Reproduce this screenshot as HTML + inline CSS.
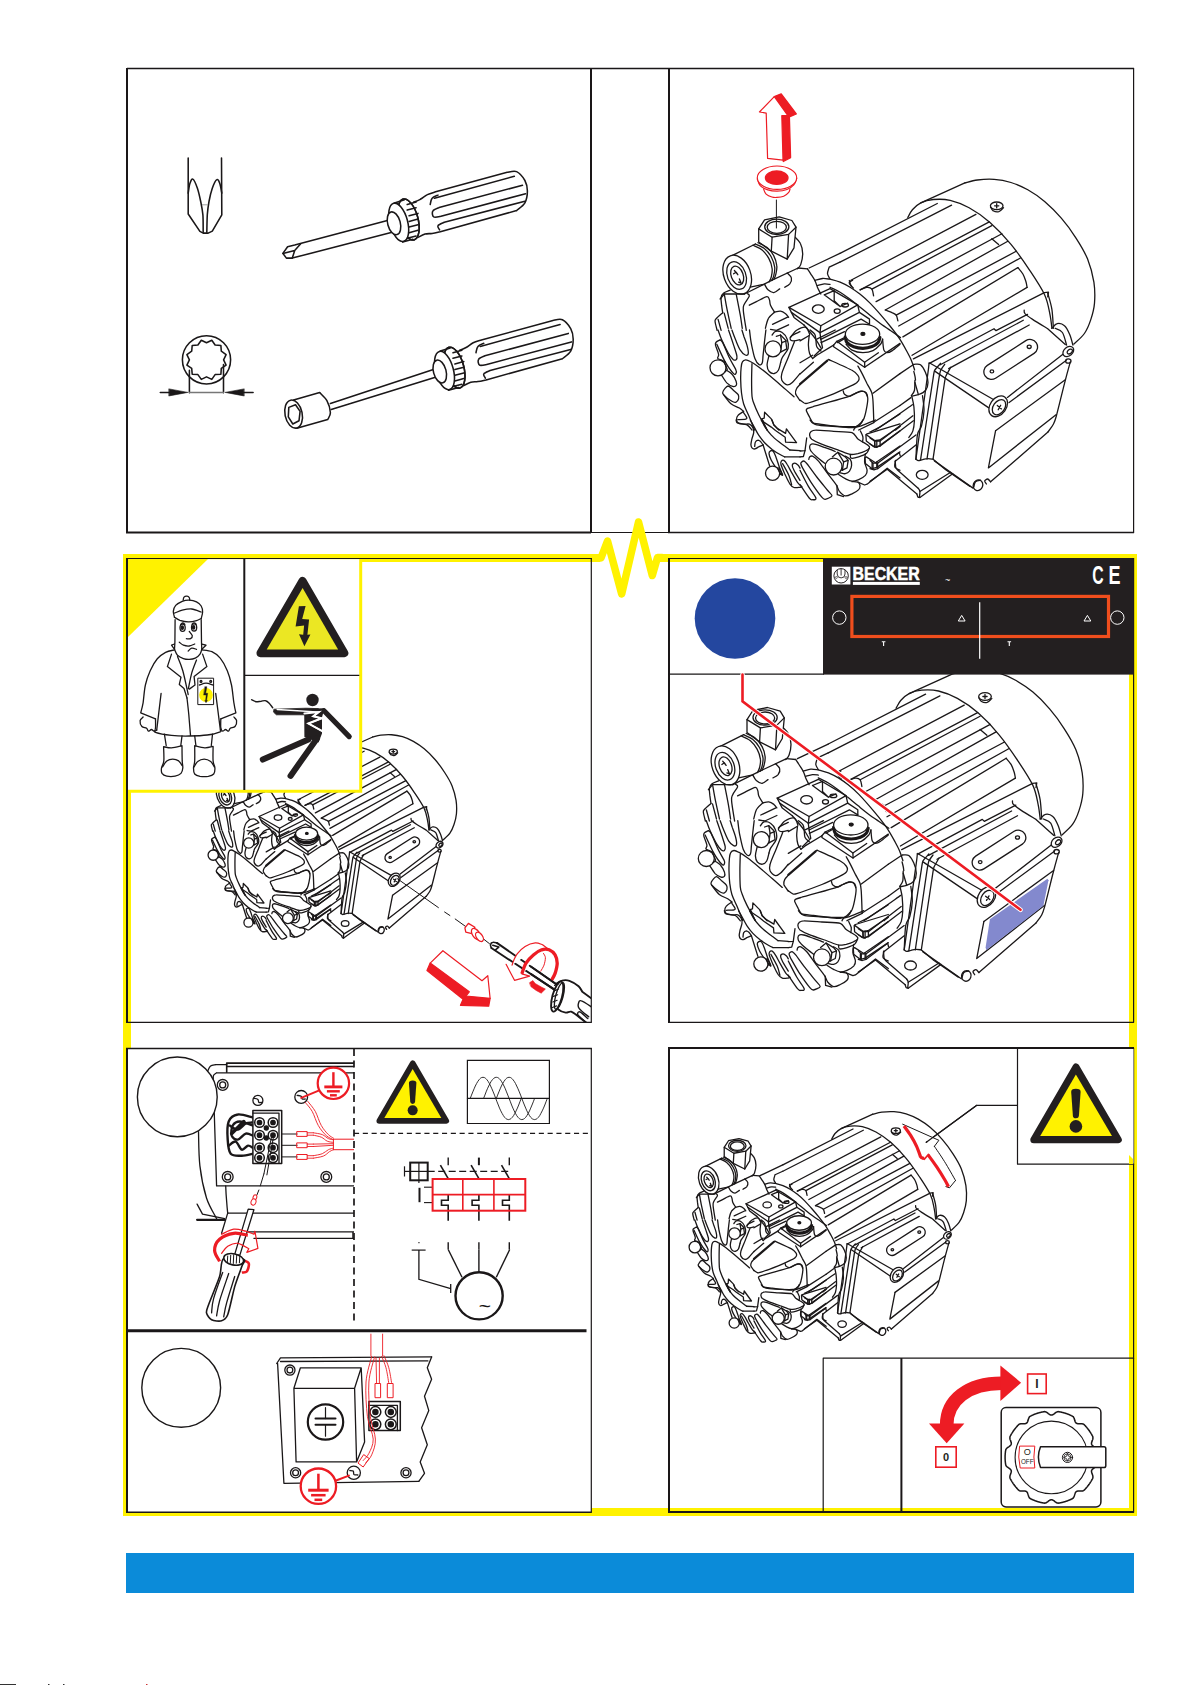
<!DOCTYPE html>
<html><head><meta charset="utf-8"><title>Becker pump – electrical connection</title>
<style>
html,body{margin:0;padding:0;background:#fff;}
body{width:1192px;height:1685px;overflow:hidden;font-family:"Liberation Sans",sans-serif;}
svg{display:block;position:absolute;left:0;top:0;}
.k{vector-effect:non-scaling-stroke;fill:none;stroke:#1a1718;stroke-width:1.3;stroke-linecap:round;stroke-linejoin:round;}
.kw{vector-effect:non-scaling-stroke;fill:#fff;stroke:#1a1718;stroke-width:1.3;stroke-linecap:round;stroke-linejoin:round;}
.tools .k,.tools .kw{stroke-width:1.55;}
.r{fill:none;stroke:#ed1c24;stroke-width:1.3;stroke-linecap:round;stroke-linejoin:round;}
</style></head><body>
<svg width="1192" height="1685" viewBox="0 0 1192 1685">
<!-- 05_pumpdefs.svg -->
<defs><g id="pump">
<path class="k" d="M907.8 217.5 C908.6 216.2 910.3 212.2 912.4 209.8 C914.6 207.3 917.3 204.6 920.8 202.9 C924.3 201.1 928.5 199.9 933.4 199.5 C938.3 199.1 944.2 199 950.2 200.3 C956.1 201.7 962.4 204 969.1 207.7 C975.7 211.3 983 216.2 990 222.4 C997 228.5 1004.4 236.3 1011 244.4 C1017.6 252.4 1024.3 262.2 1029.9 270.6 C1035.5 279 1041.2 287.5 1044.6 294.7 C1047.9 301.9 1048.6 308 1049.8 313.6 C1051 319.2 1051.6 325.8 1051.9 328.3"/>
<path class="k" d="M920.8 202.9 L964.9 182.9"/>
<path class="k" d="M964.9 182.9 C967 182.4 972.6 180.6 977.4 180 C982.3 179.4 988.6 178.9 994.2 179.4 C999.8 179.8 1005.4 180.8 1011 182.5 C1016.6 184.3 1022.2 186.7 1027.8 189.8 C1033.4 193 1039 196.7 1044.6 201.4 C1050.2 206.1 1056.1 212 1061.3 218.2 C1066.6 224.3 1071.7 231.3 1076 238.1 C1080.4 244.9 1084.6 251.7 1087.6 259.1 C1090.5 266.4 1092.7 274.8 1093.9 282.1 C1095 289.5 1095 296.8 1094.5 303.1 C1094 309.4 1092.4 314.8 1090.7 319.9 C1089 325 1087.2 329.5 1084.4 333.5 C1081.6 337.5 1075.7 342.3 1073.9 344"/>
<path class="k" d="M1047.7 293 C1048.4 295.8 1051 303.5 1051.9 309.4 C1052.8 315.3 1053.1 325.1 1053.4 328.3"/>
<ellipse class="k" cx="996.7" cy="205.8" rx="6.3" ry="3.8"/>
<path class="k" d="M990.5 207 C990.9 207.7 991.8 210.1 993.2 210.8 C994.6 211.6 997.1 212.2 998.8 211.7 C1000.6 211.1 1002.7 208.3 1003.5 207.7"/>
<path class="k" d="M996.7 203.7 L996.7 207.9M994.6 205.8 L998.8 205.8"/>
<path class="k" d="M1051.9 328.3 C1052.8 327.5 1055.1 324.1 1057.1 323.7 C1059.2 323.2 1062.4 323.9 1064.5 325.8 C1066.6 327.6 1068.3 331.3 1069.7 334.6 C1071.1 337.8 1072.4 343.3 1072.9 345.1"/>
<path class="k" d="M1055.1 328.3 C1056.3 329 1060.5 329.7 1062.4 332.5 C1064.3 335.3 1065.9 343 1066.6 345.1"/>
<path class="k" d="M840 253.3 L937.3 203.5"/>
<path class="k" d="M840 262.2 L951.6 205.2"/>
<path class="k" d="M850.9 280.3 L975.9 214.4"/>
<path class="k" d="M860.1 289.9 L989.3 221.9"/>
<path class="k" d="M871.9 289.1 L991.8 225.6"/>
<path class="k" d="M876.1 301.6 L1001.9 233.7"/>
<path class="k" d="M885.3 310 L1007.8 241.2"/>
<path class="k" d="M896.2 315.1 L1016.2 251.3"/>
<path class="k" d="M898.7 326 L1020.4 258"/>
<path class="k" d="M902.9 336.9 L1017.9 267.6"/>
<path class="k" d="M912.1 355.3 L1027.1 287.4"/>
<path class="k" d="M1017.9 267.6 C1018.7 268.6 1021.5 271.6 1022.9 274 C1024.2 276.3 1025.2 279.3 1025.9 281.5 C1026.6 283.7 1026.9 286.4 1027.1 287.4"/>
<path class="k" d="M991.8 238.7 L998.6 244.6"/>
<path class="k" d="M852.6 280.3 C852 280.7 849.4 281.6 849.2 282.7 C849.1 283.7 851.3 285.9 851.7 286.5"/>
<path class="k" d="M860.1 289.9 C861.3 289.5 864.9 287.5 866.8 287.4 C868.8 287.2 870.8 287.7 871.9 289.1 C873 290.5 873.3 294.7 873.6 295.8"/>
<path class="k" d="M885.3 310 C886.4 310.5 890.2 311.7 892 312.6 C893.8 313.4 895.2 313.7 896.2 315.1 C897.2 316.5 897.6 320 897.9 320.9"/>
<path class="k" d="M913.8 371.3 C914 372.1 914.7 374.9 915 376.3 C915.3 377.8 915.4 379.4 915.5 380"/>
<path class="k" d="M929.7 363 L993.4 399.5M935.1 371.4 L988.8 407.9"/>
<path class="k" d="M1007.4 397.4 L1063.6 353.8"/>
<path class="k" d="M1009.1 402.5 L1066.1 360.5"/>
<path class="k" d="M995.6 430.7 L1065.3 379.7"/>
<path class="k" d="M1070.3 361.9 C1069.5 365 1067.5 371.7 1065.3 380.3 C1063 389 1058.8 406.6 1056.9 413.9 C1054.9 421.2 1055.1 420.9 1053.5 424 C1052 427 1048.6 431 1047.7 432.3"/>
<path class="k" d="M1047.7 432.3 L990.6 481.8"/>
<path class="k" d="M990.6 481.8 C990.1 481.4 988.6 479.1 987.6 479 C986.6 478.9 984.9 480.2 984.7 481 C984.5 481.8 986.1 483.5 986.4 484"/>
<ellipse class="k" cx="978" cy="485.2" rx="4.7" ry="5.4" transform="rotate(20 978 485.2)"/>
<path class="k" d="M973.8 486.9 C974.1 486 974.4 483 975.5 481.8 C976.6 480.7 979.7 480.4 980.5 480.2"/>
<path class="k" d="M973 488.1 L934.4 460.9"/>
<path class="k" d="M995.6 430.7 L988.4 467.9 L1056 414.7"/>
<ellipse class="kw" cx="998.2" cy="406.3" rx="8.1" ry="11.4" transform="rotate(35 998.2 406.3)"/>
<ellipse class="k" cx="999" cy="407.2" rx="5.7" ry="8.4" transform="rotate(35 999 407.2)"/>
<path class="k" d="M997.3 405.5 L1001.5 408.9M1000.7 405.2 L998.2 409.7"/>
<ellipse class="kw" cx="1068.3" cy="351.5" rx="6" ry="4.4" transform="rotate(-40 1068.3 351.5)"/>
<ellipse class="k" cx="1069.8" cy="351.5" rx="3" ry="2" transform="rotate(-40 1069.8 351.5)"/>
<ellipse class="k" cx="1068.3" cy="361" rx="2.7" ry="2.2"/>
<g transform="rotate(-32.8 1010.7 359.4)"><rect class="k" x="980.2" y="351.8" width="61" height="15.2" rx="7.6"/></g>
<ellipse class="k" cx="991.9" cy="371.4" rx="1.8" ry="1.5"/>
<ellipse class="k" cx="1029.2" cy="346.8" rx="2" ry="1.7"/>
<path class="k" d="M913.4 358.9 L1044.3 292.6 L1048.5 292.1 L1047.7 296.8"/>
<path class="k" d="M929.4 363.4 L994 328.7 L996 330.7 L1027.5 314.4"/>
<path class="k" d="M940.3 364.7 L1023.3 320.3"/>
<path class="k" d="M948.7 368.6 L1029.2 325"/>
<path class="k" d="M1024.2 310.2 C1024.3 310.8 1023.6 312 1025 313.6 C1026.4 315.1 1028.8 316.9 1032.6 319.4 C1036.3 321.9 1045.1 327.1 1047.7 328.7M1047.7 328.7 L1065.3 344.6"/>
<path class="k" d="M794 236.1 C795 237.3 798.9 240.4 800.3 243.3 C801.8 246.2 802.6 250.1 802.7 253.7 C802.7 257.2 801.6 262.1 800.7 264.6 C799.8 267.1 797.9 268.1 797.3 268.8"/>
<path class="k" d="M772.1 280.2 L798.2 268"/>
<path class="kw" d="M758.7 228.9 L764.6 219.8 L779.2 216.8 L791.9 220.5 L796 227.2 L794 247.8 L787.2 259.1 L771.3 251.2 L758.7 241.9Z"/>
<path class="k" d="M758.7 228.9 L772.1 237.2 L788.6 234.4 L796 227.2"/>
<path class="k" d="M772.1 237.2 L771.3 251.2M788.6 234.4 L787.2 259.1"/>
<ellipse class="kw" cx="776.8" cy="226.8" rx="12.1" ry="7.7"/>
<ellipse class="k" cx="776.8" cy="227.3" rx="9.6" ry="6"/>
<path class="k" d="M731 256.2 L755.4 244M744.5 294 L772.1 280.2"/>
<path class="k" d="M755.4 244 C756.9 244.7 761.9 246.5 764.6 248.7 C767.3 250.8 769.6 254 771.3 257 C773 260.1 774.2 264 774.7 267.1 C775.1 270.2 774.3 273.3 773.8 275.5 C773.4 277.7 772.1 279.7 771.8 280.5"/>
<path class="k" d="M752.9 245.3 C754.4 246.1 759.4 247.8 762.1 250 C764.7 252.2 767.1 255.3 768.8 258.4 C770.5 261.5 771.7 265.4 772.1 268.5 C772.6 271.5 771.8 274.6 771.3 276.8 C770.8 279.1 769.5 281 769.1 281.9"/>
<path class="k" d="M757.9 242.8 C759.4 243.6 764.5 245.3 767.1 247.5 C769.8 249.7 772.2 252.8 773.8 255.9 C775.4 258.9 776.5 262.9 776.8 265.9 C777.2 269 776.3 272.1 775.8 274.3 C775.3 276.6 774.2 278.5 773.8 279.4"/>
<ellipse class="kw" cx="737.2" cy="274.7" rx="13.4" ry="20.1" transform="rotate(-20 737.2 274.7)"/>
<ellipse class="k" cx="736.6" cy="275.5" rx="9.2" ry="14.3" transform="rotate(-20 736.6 275.5)"/>
<ellipse class="k" cx="737.2" cy="275.5" rx="6" ry="9.7" transform="rotate(-20 737.2 275.5)"/>
<path class="k" d="M734.4 270.5 L737.8 274.7 L736.1 272.1 L733.6 273.8M739.4 278.9 L741.1 283.1 L738.6 282.2"/>
<path class="k" d="M764.6 284.4 C765.2 285.3 766.4 288.4 768 289.8 C769.5 291.1 771.9 292.8 773.8 292.6 C775.8 292.5 778.7 289.5 779.7 288.9"/>
<path class="k" d="M787.2 273 C787.9 273.8 791 276.2 791.4 278 C791.9 279.8 790.9 282.4 789.8 283.9 C788.6 285.4 785.6 286.7 784.7 287.2"/>
<path class="k" d="M788.9 307.4 L830 288.6 L857.7 304.9 L820.8 325.8Z"/>
<path class="k" d="M824.2 294.8 L834.2 290.6 L834.2 300.7M824.2 294.8 L840.1 306.5 L847.7 303.2M834.2 300.7 L840.1 306.5"/>
<ellipse class="k" cx="818.3" cy="309.1" rx="5.9" ry="4.2"/>
<ellipse class="k" cx="837.2" cy="311.1" rx="3" ry="2.2"/>
<ellipse class="k" cx="845.1" cy="305.2" rx="3.4" ry="1.8"/>
<path class="k" d="M788.9 307.4 L791.4 312.4 L820 332.6 L859.4 312.4 L857.7 304.9"/>
<path class="k" d="M820 332.6 L820.8 325.8"/>
<path class="k" d="M791.4 312.4 L794 317.4 L804 325M820 332.6 L820.8 339.3 L861.1 319.1 L869.5 324.2 L837.6 342.6"/>
<path class="k" d="M859.4 312.4 L869.5 319.1 L869.5 324.2"/>
<path class="k" d="M804 325 C804.9 326 807.1 328.5 809.1 330.9 C811 333.2 813.8 336.5 815.8 339.3 C817.7 342.1 820 346.3 820.8 347.7"/>
<path class="k" d="M820.8 339.3 L822.5 347.7 L814.1 356"/>
<path class="k" d="M814.9 280.5 C816.2 280.2 820 278.7 822.5 278.5 C825 278.3 828.8 279.1 830 279.2M830 279.2 C831.7 279.7 836.7 280.9 840.1 282.2 C843.4 283.6 846.8 285.2 850.1 287.2 C853.5 289.3 856.8 291.6 860.2 294.3 C863.6 297 866.9 300 870.3 303.4 C873.6 306.7 877 310.6 880.3 314.4 C883.7 318.3 887.2 322.5 890.4 326.5 C893.6 330.5 896.8 334.6 899.5 338.6 C902.1 342.6 904.5 347 906.5 350.7 C908.5 354.4 910.2 357.5 911.5 360.7 C912.9 364 914.1 368.5 914.6 370"/>
<path class="k" d="M817.4 285.6 C818.6 285.3 822.1 284.1 824.2 283.9 C826.3 283.7 829.1 284.3 830 284.4M830 287.2 C831.7 288.1 836.7 290.3 840.1 292.3 C843.4 294.3 846.9 297 850.1 299.3 C853.3 301.7 855.8 303.7 859.2 306.4 C862.6 309.1 866.7 312.6 870.3 315.4 C873.8 318.3 877 321 880.3 323.5 C883.7 326 887 328.2 890.4 330.5 C893.8 332.9 898.8 336.4 900.5 337.6"/>
<path class="k" d="M807.4 268.8 C807.9 269.6 809.5 271.9 810.7 273.8 C812 275.8 813.8 278.3 814.9 280.5 C816.1 282.8 816.5 285 817.4 287.2 C818.4 289.5 820.2 292.8 820.8 294"/>
<path class="k" d="M798.2 268 L807.4 268.8M809.1 268 L839.9 253.4"/>
<path class="k" d="M829.2 267.1 C828.9 268.2 827.4 271.9 827.5 273.8 C827.7 275.8 829.6 278 830 278.9M829.2 267.1 L839.9 262.2"/>
<path class="k" d="M849.3 280.5 C849.6 281.4 850.3 284.3 851 285.6 C851.7 286.8 853.1 287.7 853.5 288.1"/>
<path class="k" d="M750.3 287.2 L762.1 284.7 L764.6 284.4"/>
<path class="k" d="M720.1 299 L724.3 294 L744.5 294"/>
<path class="k" d="M718 330 C718.7 331.7 720.1 336.2 721.8 340.1 C723.6 344 726.6 350.3 728.5 353.5 C730.4 356.7 731.9 358.3 733.1 359.4 C734.4 360.4 735.4 360.3 736.1 359.8 C736.7 359.2 737.3 358.5 736.9 356 C736.5 353.6 735 349.4 733.6 345.1 C732.2 340.8 729.4 332.5 728.5 330"/>
<path class="k" d="M731.9 330 C732.5 331.7 734.3 336.7 735.7 340.1 C737.1 343.4 738.7 347.6 740.3 350.1 C741.9 352.6 744 354.4 745.3 355 C746.6 355.6 747.9 355.3 748.2 353.9 C748.6 352.5 748.1 349.6 747.4 346.8 C746.7 343.9 745 339.5 744 336.7 C743.1 333.9 742.3 331.1 741.9 330"/>
<path class="k" d="M720.1 339.9 C719.5 340.3 716.9 341.3 716.1 342.2 C715.3 343 715.1 343.1 715.5 345.1 C715.9 347.1 718.3 352.2 718.6 354.3 C719 356.5 717.3 357.2 717.6 358.1 C717.9 359 720.1 359.5 720.6 359.8"/>
<path class="k" d="M716.8 344.3 C718.2 347.2 722.4 357 725.2 361.9 C728 366.8 731.7 371.8 733.6 373.6 C735.4 375.4 735.9 373.5 736.2 372.8 C736.6 372.1 736.8 371.9 735.7 369.4 C734.5 366.9 731.5 362.2 729.4 357.7 C727.2 353.2 724.2 345.5 722.7 342.6 C721.1 339.6 720.6 340.3 720.1 339.9"/>
<path class="k" d="M721.4 374.9 C722.3 376.2 725 380.9 726.8 382.9 C728.7 384.8 731.2 386 732.7 386.4 C734.3 386.8 735.7 386.2 736.2 385.4 C736.8 384.5 736.7 383 736.1 381.2 C735.4 379.4 733.8 376.2 732.3 374.5 C730.8 372.7 728.1 371.3 727.3 370.7"/>
<path class="k" d="M728.1 386 C726.4 386.2 723.8 389.8 723.1 391.2 C722.3 392.7 722 392.9 723.5 394.6 C725 396.3 729.8 400.1 731.9 401.3 C734 402.6 735 402.6 736.1 402.1 C737.2 401.7 738.2 400.1 738.6 398.8 C738.9 397.5 739 396 738.2 394.6 C737.3 393.2 735.2 391.8 733.6 390.4 C731.9 389 729.9 385.9 728.1 386Z"/>
<path class="k" d="M723.5 394.6 C724.7 396.1 728.4 401.6 731 403.8 C733.7 406.1 737.3 406.8 739.4 408 C741.5 409.3 742.9 410.8 743.6 411.4"/>
<path class="k" d="M743.6 411.4 C742.6 412.1 738.9 414.2 737.8 415.6 C736.6 417 736.4 418.5 736.5 419.8 C736.6 421 736.8 422.3 738.6 423.1 C740.3 424 744.7 423.7 747 424.8 C749.2 425.9 751.2 429.1 752 430"/>
<path class="k" d="M743.6 412.6 C744.1 413.4 746.2 416.2 746.6 417.2 C746.9 418.3 747.2 418.7 745.7 419.1 C744.3 419.5 739.1 419.5 737.8 419.6"/>
<ellipse class="kw" cx="718" cy="367.8" rx="8" ry="8"/>
<path class="k" d="M724.3 362.3 L727.3 369.4 L725.2 371.9"/>
<path class="k" d="M721 359.8 L725.2 361.9"/>
<path class="k" d="M754.5 430 C753.6 427.6 750.5 419.9 748.7 415.6 C746.8 411.2 744.8 407.6 743.6 403.8 C742.4 400.1 742 396.8 741.5 392.9 C741 389 740.8 384.5 740.7 380.3 C740.6 376.1 740.8 370.8 741.1 367.8 C741.4 364.7 741.6 363.2 742.4 361.9 C743.1 360.6 744.4 359.9 745.7 359.8 C747 359.7 748.2 360.3 750.3 361.5 C752.5 362.6 755.2 364.3 758.7 366.9 C762.2 369.5 767.1 373.5 771.3 377 C775.5 380.5 780.1 384.6 783.9 387.9 C787.7 391.2 792.3 395.2 794 396.7"/>
<path class="k" d="M767.1 430 C766.6 429 765.2 426.5 763.8 424 C762.4 421.4 760.4 418.2 758.7 414.7 C757 411.2 754.8 406.1 753.7 403 C752.6 399.9 752.4 400.1 752 396.3 C751.7 392.5 751.6 385.8 751.6 380.3 C751.6 374.9 751.9 366.4 752 363.6"/>
<path class="k" d="M767.1 430 L761.7 418.9 L764.2 418.1 L764.6 412.2 L771.3 418.9 L773.8 424.8 L778.9 430"/>
<path class="k" d="M749.5 330 C749.8 332.2 750.4 338.7 751.3 343.4 C752.3 348.2 753.6 355 754.9 358.5 C756.2 362 757.9 363.8 759.1 364.6 C760.4 365.3 761.6 364.7 762.2 363.1 C762.9 361.6 762.7 358.6 763.1 355.2 C763.5 351.7 764 346.8 764.4 342.6 C764.9 338.4 765.6 332.1 765.9 330"/>
<path class="k" d="M772.1 335 C772.7 334.4 773.8 331.7 775.5 331.3 C777.2 330.8 780.3 331.2 782.2 332.5 C784.2 333.8 786.3 336.6 787.2 339.2 C788.2 341.9 788.9 345.4 788.1 348.5 C787.2 351.5 783.4 355.4 782.2 357.7 C781 360 781 361.5 780.7 362.3"/>
<path class="k" d="M776.3 336.3 L780.5 335 L785.6 340.1 L786.8 348.9 L780.5 352.2"/>
<path class="k" d="M780.5 335 L781.8 342.6 L780.5 352.2"/>
<path class="k" d="M781.8 342.6 L786.4 340.9"/>
<ellipse class="kw" cx="773" cy="348.9" rx="8" ry="8"/>
<path class="k" d="M768.8 356.4 C768.5 357.9 767 362.7 767.1 365.2 C767.2 367.8 768 370.2 769.2 371.5 C770.4 372.9 772.7 373.7 774.2 373.5 C775.8 373.2 777.4 372.1 778.4 370.3 C779.5 368.4 780.3 363.6 780.7 362.3"/>
<path class="k" d="M794.4 341.7 C793.3 344.4 790.2 352.4 788.1 357.7 C786 363 782.8 369.8 781.8 373.6 C780.7 377.4 780.9 378.4 781.8 380.3 C782.7 382.2 785.5 384.6 787.2 384.9 C789 385.3 790.2 384.3 792.3 382.4 C794.4 380.5 798.7 375.1 800 373.6"/>
<path class="k" d="M800 384.5 C799.4 385.2 797.2 387.2 796.5 388.7 C795.7 390.3 795.1 391.8 795.6 393.8 C796.2 395.7 799.3 399.4 800 400.5"/>
<path class="k" d="M800 331.7 C798.6 332.4 793.1 334.6 791.4 335.9 C789.8 337.1 789.9 338.4 790.2 339.2 C790.5 340.1 791.5 340.8 793.1 340.9 C794.8 341 798.9 339.9 800 339.6"/>
<path class="k" d="M736.1 420 C736.3 420.5 736.1 422.2 737.3 422.9 C738.6 423.6 741.6 424 743.6 424.2 C745.7 424.4 748 423.6 749.5 424.2 C751 424.8 752.2 426.2 752.9 427.6 C753.6 428.9 753.9 430.6 753.7 432.6 C753.5 434.5 752.3 437.3 751.8 439.3 C751.4 441.3 750.9 443.3 750.9 444.7 C751 446.2 751.5 447.4 752.2 448.1 C752.9 448.8 753.8 449.2 754.9 448.9 C756.1 448.7 757.8 447.3 759.1 446.7 C760.5 446 762.4 445.3 763.1 445"/>
<path class="k" d="M754.7 446.4 C754.8 445.7 754.8 443 755.4 442 C755.9 440.9 757.2 440.2 758.1 440.1 C758.9 440.1 759.7 440.8 760.6 441.6 C761.4 442.5 762.7 444.4 763.1 445"/>
<path class="k" d="M750.3 420 C751 421.3 753.1 425 754.5 427.6 C755.9 430.1 757 432.6 758.7 435.1 C760.4 437.6 762.4 440.3 764.6 442.7 C766.8 445 769.5 447.3 772.1 449.4 C774.8 451.4 778.4 453.6 780.5 454.8 C782.6 456.1 784 456.6 784.7 456.9"/>
<path class="k" d="M784.7 456.9 L800 456.9"/>
<path class="k" d="M761.2 420 C761.9 421.3 763.8 425 765.4 427.6 C767.1 430.1 769.1 432.7 771.3 435.1 C773.5 437.5 776.5 439.9 778.9 441.8 C781.2 443.8 783.8 445.5 785.6 446.8 C787.4 448.2 789.1 449.5 789.8 450"/>
<path class="k" d="M789.8 450 L800 450.6"/>
<path class="k" d="M772.1 420 L773.8 425 L777.2 428.4 L785.6 433.4 L786.4 428.8 L796.5 442.7 L785.6 442.2 L785.2 437.2 L775.5 430.5 L771.3 427.1 L763.8 422.1 L762.5 420"/>
<path class="k" d="M763.1 445 L769.6 465.7"/>
<path class="k" d="M769 453.6 C768.8 452 769.8 451.3 770.5 450.9 C771.2 450.5 772.2 450.2 773.2 451.2 C774.1 452.2 774.9 454.3 775.9 456.9 C776.9 459.5 778.2 464 779.3 467 C780.4 470 782.4 473.8 782.6 474.9 C782.8 476.1 781.7 475 780.5 473.7 C779.3 472.4 777 469.2 775.5 467 C774 464.7 772.4 462.5 771.3 460.3 C770.2 458 769.1 455.1 769 453.6Z"/>
<ellipse class="kw" cx="772.6" cy="473.3" rx="7.1" ry="7.1"/>
<path class="k" d="M777.6 468.2 L780.5 474.5"/>
<path class="k" d="M778.9 467.8 L781.8 473.7"/>
<path class="k" d="M801.9 486.7 C801.6 486.8 801.3 487.1 800 487.3 C798.7 487.4 795.7 488.1 794 487.5 C792.3 486.9 791.3 486.1 789.8 483.8 C788.2 481.5 786.2 476.9 784.7 473.7 C783.3 470.5 781.5 466.6 781 464.5 C780.4 462.4 780.9 461.8 781.4 461.1 C781.9 460.4 782.9 459.9 783.9 460.4 C784.9 461 785.9 462.3 787.2 464.5 C788.6 466.7 790.6 470.8 792.3 473.7 C794 476.6 796 480.2 797.3 482.1 C798.6 484 799.2 484.2 800 485 C800.8 485.8 801.6 486.4 801.9 486.7"/>
<path class="k" d="M782.6 463.6 C783.7 465.6 787.4 471.9 788.9 475.4 C790.4 478.9 791.2 483.1 791.6 484.6"/>
<path class="k" d="M800 468.2 C799.7 467.7 799 466.1 798.2 465.3 C797.3 464.5 795.8 463.2 794.8 463.2 C793.8 463.2 792.4 464.1 792.3 465.3 C792.1 466.5 792.7 467.8 794 470.3 C795.2 472.9 799 478.7 800 480.4"/>
<path class="k" d="M810.1 420 C810.6 420.6 811.6 422.4 813.4 423.4 C815.2 424.3 814.3 424.9 821 425.5 C827.7 426 847.1 426.9 853.7 426.7 C860.3 426.5 858.9 425.3 860.4 424.2 C861.9 423.1 862.5 420.7 862.9 420"/>
<path class="k" d="M809.6 435.1 C809.5 434.2 810.2 432.3 810.9 431.7 C811.6 431.2 812.9 430.1 815.5 430.1 C818.2 430 829.3 431 833.6 431.3 C837.8 431.6 849.2 431.7 852 432.6 C854.9 433.5 856 437.4 857.9 438.9 C859.7 440.3 866.6 444.1 868 445.2 C869.3 446.2 869.8 447.4 869.5 448.1 C869.2 448.8 866.8 450.4 865.4 451 C864.1 451.7 859.6 453.2 857.9 453.6 C856.1 453.9 852.7 454.8 850.3 454.4 C848 454 841.2 451 837.8 449.8 C834.3 448.6 824 445.1 821 443.9 C817.9 442.7 813.1 440.3 811.7 439.3 C810.4 438.3 809.7 436 809.6 435.1Z"/>
<path class="k" d="M850.3 454.4 C850.5 455 849.8 457.8 851.2 458.2 C852.6 458.6 856.2 457.7 858.7 456.9 C861.2 456.1 864.5 455 866.3 453.6 C868 452.2 868.7 449.4 869.2 448.5"/>
<path class="k" d="M825.2 463.6 C823.8 462.5 819.2 459 816.8 456.9 C814.4 454.8 812.1 452.7 810.9 451 C809.7 449.4 809.6 448 809.6 446.8 C809.7 445.7 810.3 444.6 811.3 444.2 C812.3 443.7 813.2 443.7 815.5 444.3 C817.8 444.9 821.9 446.5 825.2 447.7 C828.5 448.9 833.6 450.8 835.2 451.5"/>
<path class="k" d="M800 451 L805 450.6 L806.7 438"/>
<path class="k" d="M800 456.9 L803.4 456.5 L805 450.6"/>
<path class="k" d="M845.3 456.1 C846.1 456.6 849.3 457.9 850.3 459.4 C851.4 461 851.7 463.3 851.6 465.3 C851.5 467.3 850.5 469.8 849.5 471.2 C848.4 472.6 846.8 473.4 845.3 473.7 C843.8 474 841.1 473 840.3 472.9"/>
<path class="k" d="M832.3 456.9 L837.8 452.3 L845.3 456.9 L848.2 460.3 L847 467.8 L841.9 470.3"/>
<path class="k" d="M837.8 452.3 L843.6 461.9 L842.4 470.3"/>
<path class="k" d="M843.6 461.9 L848 460.3"/>
<ellipse class="kw" cx="833.6" cy="466.6" rx="8.4" ry="8.4"/>
<path class="k" d="M865.4 453.6 C865.3 455 864.3 459.1 864.6 461.9 C864.9 464.7 867 468.1 867.1 470.3 C867.3 472.6 866.8 473.8 865.4 475.4 C864 476.9 861 478.6 858.7 479.6 C856.5 480.5 854.3 481.4 852 481.2 C849.8 481.1 847.5 479.8 845.3 478.7 C843.1 477.6 839.7 475.2 838.6 474.5"/>
<path class="k" d="M808.8 459.4 C808.9 459 809 457.4 809.6 456.9 C810.3 456.4 811.1 455.5 812.6 456.2 C814.1 456.9 815.9 458.2 818.5 461.1 C821 464 824.7 469.8 827.7 473.7 C830.6 477.6 834.1 481.7 836.1 484.6 C838 487.5 837.9 489.4 839.4 491.3 C841 493.2 843.2 495.5 845.3 495.9 C847.4 496.3 849.8 494.9 852 493.8 C854.3 492.8 857.4 491 858.7 489.6 C860.1 488.2 860.1 486.7 860 485.4 C859.8 484.2 859.2 482.7 857.9 482.1 C856.6 481.5 853 481.7 852 481.7"/>
<path class="k" d="M801.7 461.9 C802.1 461.6 803.4 460.8 804.2 461.1 C805 461.4 805.9 462.3 807.6 464.5 C809.2 466.6 814.1 473.6 816.8 477 C819.5 480.5 825.7 488 827.7 490.5 C829.7 493 832.2 494.7 831.9 495.9 C831.5 497.1 826.5 499.1 825.2 499.3 C823.8 499.4 823.7 499.5 821.8 497.2 C819.9 494.9 813.5 486 810.9 482.1 C808.3 478.2 803.9 470.3 802.5 467.8 C801.2 465.4 801 464.4 800.8 463.6 C800.7 462.8 801.2 462.3 801.7 461.9Z"/>
<path class="k" d="M800 470.3 C801.4 473 805.7 481.7 808.4 486.3 C811 490.9 815.2 495.8 815.9 498 C816.6 500.3 813.7 499.7 812.6 499.7 C811.5 499.7 811.3 500.5 809.2 498 C807.1 495.5 801.5 486.8 800 484.6"/>
<path class="k" d="M836.9 485.4 L837.3 494.7 L843.6 496.5"/>
<path class="k" d="M900 423.8 L867.1 433.8 L865.9 434.7 L866.3 441 L873.8 446.7 L876.8 447.3 L879.7 445.6 L900 430.9"/>
<path class="k" d="M866.3 434.7 L874.7 440.6 L879.7 440 L900 426.3"/>
<path class="k" d="M874.7 440.6 L874.7 446.8"/>
<path class="k" d="M876.8 440.4 L876.8 447.3"/>
<path class="k" d="M900 446 L875.5 462.8 L866.3 456.9 L865 457.8 L865.4 463.6 L872.1 468.7 L876.8 467.4 L900 451.9"/>
<path class="k" d="M872.1 463 L872.1 468.7"/>
<path class="k" d="M876.8 461.9 L876.8 467.4"/>
<path class="k" d="M853.7 430.1 C854 429.6 854.1 428.2 855.4 427.6 C856.6 426.9 857.9 427.1 861.2 425.9 C864.6 424.6 873.1 421 875.5 420"/>
<path class="k" d="M860.4 430.9 C860.8 431.9 862.6 435 862.9 436.8 C863.3 438.6 862.6 441 862.5 441.8"/>
<path class="k" d="M857.9 482.1 L864.6 485 L867.1 484.2 L887.2 468.2 L900 477.9"/>
<path class="k" d="M895.6 460.3 C895.5 461.4 894.1 465.3 894.8 467 C895.5 468.7 899.1 469.8 900 470.3"/>
<path class="k" d="M845.3 336.7 C845.6 337.7 845.6 340.9 847 342.6 C848.4 344.3 851 345.8 853.7 346.8 C856.3 347.7 859.8 348.3 862.9 348.3 C866 348.3 869.6 347.6 872.1 346.6 C874.7 345.7 876.7 344.1 878 342.6 C879.3 341.1 879.6 338.4 879.9 337.6" style="stroke-width:3.2"/>
<path class="k" d="M846.1 344.3 C847.1 345.2 849.2 348.7 852 350.1 C854.8 351.5 859.4 352.6 862.9 352.7 C866.4 352.7 870.1 352 873 350.6 C875.9 349.2 878.9 346.1 880.5 344.3 C882.1 342.4 882.3 340.1 882.6 339.2"/>
<ellipse class="kw" cx="862.5" cy="334.2" rx="17.2" ry="10.1"/>
<ellipse class="k" style="fill:#1a1718" cx="862.9" cy="333.9" rx="2" ry="1.5"/>
<path class="k" d="M833.6 345.1 L836.9 341.3 L844.5 337.6"/>
<path class="k" d="M836.9 341.3 L864.6 362.3 L878.4 352.8"/>
<path class="k" d="M833.6 345.1 L833.6 346.8 L864.6 367.3 L900 343.4"/>
<path class="k" d="M864.6 362.3 L864.8 367.3"/>
<path class="k" d="M882.6 339.2 C882.8 341 883.1 347.9 883.9 350.1 C884.7 352.4 885.9 352.6 887.2 352.7 C888.6 352.7 890.2 352 892.3 350.6 C894.4 349.2 898.7 345.3 900 344.3"/>
<path class="k" d="M857.9 366.1 C858.4 367.1 859.7 369 861.2 371.9 C862.8 374.9 865.4 380.3 867.1 383.7 C868.9 387.1 870.7 389.6 871.7 392.5 C872.7 395.4 872.6 396.3 873 401.3 C873.3 406.3 873.7 418.8 873.8 422.3"/>
<path class="k" d="M873 393.3 L900 373.6"/>
<path class="k" d="M873.8 422.3 L900 405.5"/>
<path class="k" d="M858.7 430 L873.8 422.7"/>
<path class="k" d="M875.5 430 L900 413.9"/>
<path class="k" d="M895.6 430 L900 426.5"/>
<path class="k" d="M800 384.1 L827.3 360.6" style="stroke-width:2.2"/>
<path class="k" d="M829.4 359.8 C832 361 848.7 368.5 852 370.3 C855.3 372.1 857.1 374.3 857.9 375.3 C858.7 376.3 859.2 378.2 859.1 379.1 C859 379.9 858.1 381.6 857 382.4 C856 383.3 853.1 384.9 850.3 386.2 C847.6 387.5 838.5 391.8 833.6 393.8 C828.7 395.7 811.8 401.9 808.4 403 C805 404.1 805.2 403.3 804.2 403 C803.2 402.6 800.5 400.4 800 400.1"/>
<path class="k" d="M827.3 360.6 C827.5 360.4 828.2 359.7 828.5 359.5 C828.9 359.4 829.2 359.7 829.4 359.8"/>
<path class="k" d="M843.2 390.8 C843.4 391.4 843.4 393.3 844.5 394.2 C845.5 395.1 847.8 396.3 849.5 396.3 C851.2 396.2 852.7 394.6 854.5 393.8 C856.3 392.9 858.6 391.5 860.4 391.2 C862.2 391 864.2 391.5 865.4 392.5 C866.6 393.5 867.2 396.3 867.5 397.1"/>
<path class="k" d="M806.3 410.5 C806 409.6 806.9 408.8 807.6 408.4 C808.2 408.1 808.6 407.9 812.6 406.8 C816.5 405.6 842.8 398.4 847 397.1 C851.2 395.8 853 394.3 854.5 393.8 C856 393.2 860.9 391.3 862.1 391.2 C863.3 391.2 865.7 392.2 866.3 392.9 C866.8 393.7 867.8 397.1 867.8 398.8 C867.8 400.5 866.7 407.7 866.3 409.7 C865.9 411.7 864.5 417.4 863.8 418.9 C863 420.4 859.9 423.9 858.7 424.8 C857.6 425.7 855.4 427.7 852 427.7 C848.7 427.7 829 425.3 825.2 424.8 C821.3 424.3 814.9 423.8 813.4 423.1 C811.9 422.4 810.8 419.3 810.1 418.1 C809.4 416.8 806.5 411.5 806.3 410.5Z"/>
<path class="k" d="M800 340.9 L809.2 335.5"/>
<path class="k" d="M809.2 335.5 C809.1 337.1 808.3 342.1 808.4 345.1 C808.5 348.1 808.9 351.3 809.6 353.5 C810.3 355.7 812.1 357.7 812.6 358.5"/>
<path class="k" d="M810.1 330 C810.8 330.7 813.7 332.5 814.7 334.2 C815.7 335.9 815.6 338 815.9 340.1 C816.3 342.2 815.9 345 816.8 346.8 C817.6 348.6 820.3 350.3 821 351"/>
<path class="k" d="M816.8 339.2 L835.2 330"/>
<path class="k" d="M821 342.6 L844.5 331.7"/>
<path class="k" d="M812.6 358.5 L816.8 355.2 L833.6 345.1"/>
<path class="k" d="M800 362.7 L812.6 355.2"/>
<path class="k" d="M800 374 L813.4 362.3"/>
<path class="k" d="M730.2 290.1 C729.1 290.6 725.2 291.8 723.7 293.1 C722.1 294.3 721.5 295.6 721.1 297.6 C720.8 299.6 721.4 302.7 721.6 305.2 C721.9 307.7 722.5 311.5 722.7 312.7"/>
<path class="k" d="M722.7 312.7 C721.6 313.7 717.4 317.2 716.1 318.8 C714.8 320.3 714.9 319.8 715.1 321.8 C715.3 323.7 716.8 328.9 717.1 330.3"/>
<path class="k" d="M724.2 293.6 C724.7 296.4 726 304.4 727.2 310.2 C728.4 316 730.5 325.3 731.2 328.3"/>
<path class="k" d="M736.2 294.1 C736.9 297.6 739.3 309.5 740.3 315.2 C741.3 320.9 741.9 326.1 742.3 328.3"/>
<path class="k" d="M718.1 319.3 L721.1 330.3"/>
<path class="k" d="M724.2 313.2 L728.2 328.3"/>
<path class="k" d="M747.3 293.6 C747.7 294 749.8 294.3 749.3 296.1 C748.8 297.9 745.3 301.8 744.3 304.2 C743.3 306.5 743 305.8 743.3 310.2 C743.6 314.6 745.8 327 746.3 330.3"/>
<path class="k" d="M749.3 305.2 C750.5 304.6 753.4 303.1 756.4 301.6 C759.3 300.2 764.8 296.9 766.9 296.6 C769.1 296.4 768.9 298.7 769.5 300.1 C770.1 301.6 769.6 303.2 770.5 305.2 C771.3 307.2 773.8 311 774.5 312.2"/>
<path class="k" d="M774.5 312.2 C773.5 313.2 770 315.6 768.5 318.3 C766.9 320.9 765.9 326.6 765.4 328.3"/>
<path class="k" d="M774.5 312.2 C775.5 312 778.7 311 780.5 311.2 C782.4 311.5 784.2 312.7 785.6 313.7 C786.9 314.7 788.1 316.7 788.6 317.2"/>
<path class="k" d="M772.5 324.3 L787.6 317.2"/>
<path class="k" d="M770.5 329.3 L776.5 330.3 L788.6 324.8"/>
<path class="k" d="M809.7 334.4 C809.1 333.2 807.9 328 805.7 327.3 C803.5 326.6 799.2 328.7 796.6 330.3 C794.1 332 791.6 336.2 790.6 337.4"/>
<path class="k" d="M914.9 380.5 C914.8 382.1 915 388 914.4 390.5 C913.8 393.1 911.9 394.7 911.4 395.6"/>
<path class="k" d="M911.9 396.6 C912.2 398.3 913.5 402.7 913.9 406.7 C914.3 410.7 914.6 416.8 914.4 420.8 C914.2 424.9 913.8 428.1 912.9 430.9 C912 433.7 909.5 436.4 908.8 437.5"/>
<path class="k" d="M922.5 395.6 C922.7 398.1 924.2 405.7 924 410.7 C923.8 415.8 922.6 421.8 921.5 425.9 C920.4 429.9 918.4 429.4 917.4 434.9 C916.5 440.5 916.2 455.1 915.9 459.2"/>
<path class="k" d="M914.4 364.3 C915.4 364.4 918.6 363.5 920.5 364.8 C922.3 366.2 924.2 369.4 925.5 372.4 C926.8 375.3 928 379.4 928 382.5 C928 385.5 927.1 388.5 925.5 390.5 C923.9 392.6 920.8 393.7 918.4 394.6 C916.1 395.5 912.5 395.8 911.4 396.1"/>
<path class="k" d="M914.9 382.5 L918.4 394.6"/>
<path class="k" d="M900 373.6 L913.9 364.3"/>
<path class="k" d="M900 405.5 L910.9 397.6"/>
<path class="k" d="M870 431.9 C871.7 431.1 875.9 429.4 880.1 426.9 C884.3 424.3 889.8 420.5 895.2 416.8 C900.6 413.1 909.5 406.7 912.4 404.7"/>
<path class="k" d="M870 438 L874.5 441 L880.1 441 L912.9 415.8"/>
<path class="k" d="M874.5 441 L875 446"/>
<path class="k" d="M880.1 441 L880.1 446"/>
<path class="k" d="M870 444 L875 447.1 L880.1 446 L913.4 420.8"/>
<path class="k" d="M870 460.2 L873 463.2 L877.6 463.2 L915.9 434.9"/>
<path class="k" d="M873 463.2 L873 468.2"/>
<path class="k" d="M877.6 463.2 L877.6 468.7"/>
<path class="k" d="M870 468.7 L874 469.8 L877.6 468.7 L899.3 452.6"/>
<path class="k" d="M899.3 452.6 L900.3 456.1"/>
<path class="k" d="M895.2 461.2 L915.9 445"/>
<path class="k" d="M870 481.4 L887.2 469.3"/>
<path class="k" d="M929 362.8 C929 363.4 928.9 366 928 372.4 C927.1 378.8 916.7 453.4 915.9 459.2"/>
<path class="k" d="M940.6 363.3 C940.2 363.8 935.1 369.4 934.6 370.4 C934.1 371.4 934 372.4 933.1 378.4 C932.1 384.4 921.3 454.7 920.5 460.2"/>
<path class="k" d="M944.7 364.3 C944.4 364.7 941 369.3 940.6 370.4 C940.2 371.4 939.5 374.5 938.6 380.5 C937.7 386.4 927.8 453.9 927 459.2"/>
<path class="k" d="M950.7 367.3 C950.4 367.9 946.1 375.3 945.7 376.4 C945.2 377.6 945 379 944.2 384.5 C943.3 390 933.8 453.7 933.1 458.7"/>
<path class="k" d="M915.9 459.2 C916.3 459.4 917.3 460.6 918.4 460.7 C919.5 460.8 921 460 922.5 459.7 C924 459.3 925.8 458.7 927.5 458.7 C929.3 458.6 932.1 459.1 933.1 459.2"/>
<path class="k" d="M895.2 461.2 L895.7 467.2 L897.2 469.8 L918.4 488.4"/>
<path class="k" d="M918.4 488.4 C918.7 488.9 919.8 490 919.9 491.5 C920.1 492.9 919.5 496.1 919.4 497"/>
<path class="k" d="M887.2 469.3 L916.9 494"/>
<path class="k" d="M916.9 494 C917.1 494.5 917.4 496.4 917.9 497 C918.4 497.6 919.6 497.4 919.9 497.5"/>
<path class="k" d="M919.9 491.5 L950.7 472.3"/>
<path class="k" d="M919.9 497.5 L952.7 473.7"/>
<path class="k" d="M933.1 459.2 L945.7 469.8 L970 486.4"/>
<ellipse class="k" cx="922.2" cy="474.8" rx="5.9" ry="4.5"/>
</g></defs>

<!-- 10_frames.svg -->
<!-- yellow safety frame -->
<path d="M600 558 H127 V1512 H1133 V558 H658" fill="none" stroke="#fff200" stroke-width="8" stroke-linejoin="miter"/>
<!-- bottom-left box is white filled -->
<rect x="127" y="1048.5" width="464.3" height="463.5" fill="#fff"/>
<!-- yellow corner triangle -->
<path d="M128 559 H208 L128 637 Z" fill="#fff200"/>
<!-- top boxes -->
<g fill="none" stroke="#1a1718">
<path d="M127 68.5 H1134" stroke-width="1.4"/>
<path d="M127 68 V532.5" stroke-width="2"/>
<path d="M126 532.5 H591" stroke-width="1.8"/>
<path d="M591 68 V532.5" stroke-width="2"/>
<path d="M591 532.5 H669" stroke-width="1"/>
<path d="M669 68 V533" stroke-width="2"/>
<path d="M668 532.5 H1134" stroke-width="1.6"/>
<path d="M1133.6 68 V533" stroke-width="1.2"/>
</g>
<path d="M596 558 H601 L607.5 541 L621.7 594 L638.5 522 L652.3 575.5 L657.5 557.5 H662" fill="none" stroke="#fff200" stroke-width="7.5" stroke-linejoin="round" stroke-linecap="round"/>
<!-- middle + bottom boxes -->
<g fill="none" stroke="#1a1718">
<path d="M127 558 V1022.5" stroke-width="2"/>
<path d="M126 558.5 H591.8" stroke-width="1.2"/>
<path d="M591.3 558 V1022.5" stroke-width="1.2"/>
<path d="M126 1022.3 H591.8" stroke-width="1.3"/>
<path d="M669 558 V1022.5" stroke-width="2"/>
<path d="M668 558.5 H1134" stroke-width="1.2"/>
<path d="M1133.6 558 V1022.5" stroke-width="1.2"/>
<path d="M668 1022.3 H1134" stroke-width="1.3"/>
<path d="M127 1048 V1512.5" stroke-width="2"/>
<path d="M126 1048.5 H591.8" stroke-width="1.3"/>
<path d="M591.3 1048 V1512.5" stroke-width="1.2"/>
<path d="M126 1512.2 H591.8" stroke-width="1.5"/>
<path d="M669 1047 V1512.5" stroke-width="2"/>
<path d="M668 1048 H1134" stroke-width="2"/>
<path d="M1133.6 1048 V1512.5" stroke-width="1.2"/>
<path d="M668 1512 H1134" stroke-width="1.8"/>
</g>
<!-- blue footer bar -->
<rect x="126" y="1553" width="1008" height="40" fill="#0b8bd9"/>

<!-- 20_pumps.svg -->
<defs><clipPath id="cpML2"><rect x="128" y="559" width="463" height="463"/></clipPath></defs>
<use href="#pump"/>
<path d="M776.4 200 V228" class="k" style="stroke-width:1"/>
<g clip-path="url(#cpML2)"><use href="#pump" transform="translate(-250.6 620.1) scale(0.646 0.639)"/></g>
<use href="#pump" transform="translate(-11.7 490.7)"/>
<use href="#pump" transform="translate(177.2 982.7) scale(0.721 0.719)"/>

<!-- 30_tools.svg -->
<g class="tools">
<defs><g id="handle"><ellipse class="kw" cx="408.6" cy="219.5" rx="9.4" ry="21.1" transform="rotate(-15 408.6 219.5)"/>
<path class="kw" d="M413.8 202.1 C414.9 201.7 418.1 200.6 420.3 199.3 C422.6 198.1 424.8 195.9 427.4 194.6 C429.9 193.4 434.2 192.3 435.6 191.8M435.6 191.8 L507.2 172.3M507.2 172.3 C508.8 172.2 513.7 170.2 516.6 171.6 C519.6 173 523.1 177.3 524.9 180.5 C526.7 183.8 527.4 187.4 527.4 191.1 C527.4 194.8 526.7 199.6 524.9 202.9 C523.1 206.1 518 209.3 516.6 210.6M516.6 210.6 L440.3 231.7M440.3 231.7 C438.9 232 434.6 233 432.1 233.4 C429.5 233.8 427.4 233.4 425 234.1 C422.7 234.8 419.2 236.8 418 237.4"/>
<ellipse class="k" cx="408.6" cy="219.5" rx="9.4" ry="21.1" transform="rotate(-15 408.6 219.5)"/>
<ellipse class="kw" cx="398.7" cy="222.3" rx="8.9" ry="19.7" transform="rotate(-15 398.7 222.3)"/>
<path class="k" d="M394.5 202.9 L404.4 199.8M402.7 242.1 L412.8 239.3"/>
<path class="k" d="M407.2 204.5 L416.1 202.1"/>
<path class="k" d="M407.2 210.1 L416.1 207.8"/>
<path class="k" d="M409.1 215.8 L418 213.4"/>
<path class="k" d="M409.1 221.4 L418 219.1"/>
<path class="k" d="M409.1 227 L418 224.7"/>
<path class="k" d="M409.1 232.7 L418 230.3"/>
<path class="k" d="M407.2 238.3 L416.1 236"/>
<ellipse class="kw" cx="394" cy="223.3" rx="6.3" ry="11.7" transform="rotate(-15 394 223.3)"/>
<path class="k" d="M434.4 198.2 L514.3 176.3"/>
<path class="k" d="M522.5 185.2 L439.1 207.6M439.1 207.6 C438.1 208.1 433.7 209.5 432.8 211.1 C431.9 212.6 432.4 216.1 433.7 216.9 C435.1 217.8 439.8 216.4 441 216.2M441 216.2 L525.6 193.7"/>
<path class="k" d="M524.9 201.2 L444.3 222.3M444.3 222.3 C443.2 222.9 438.7 224.4 438 225.6 C437.2 226.9 439.3 229.2 439.6 229.9"/>
<path class="k" d="M430.2 204.5 C430.5 203.4 430.8 199.7 432.1 198.2 C433.4 196.6 437 195.6 438 195.1"/></g></defs>
<path class="kw" d="M387.4 220.5 L294.7 245.1 L287.6 246.8 L282.9 253.4 L286.4 258.1 L292.3 258.1 L392.1 232.2"/>
<path class="k" d="M282.9 253.4 L294.7 250.5 L300.5 244M294.7 250.5 L292.3 258.1"/>
<use href="#handle"/>
<path class="k" d="M436.4 368.5 L330.4 403.4M331.2 409.5 L437.8 376.5"/>
<path class="kw" d="M293.6 400.1 L319.7 392.6M319.7 392.6 C320.9 394 325.1 397.3 326.9 400.7 C328.7 404 330.3 409.6 330.4 412.8 C330.5 415.9 328.2 418.3 327.7 419.5M327.7 419.5 L296.8 428.3"/>
<ellipse class="kw" cx="293.6" cy="414.1" rx="8.6" ry="14.2" transform="rotate(-12 293.6 414.1)"/>
<path class="k" d="M288.8 407.4 L295.5 404.7 L300.1 411.4 L299 420.8 L292.8 424 L288.3 416.8Z"/>
<use href="#handle" transform="translate(45.8 148.2)"/>
<path class="k" d="M188.2 158 L188.2 214 L199.9 231.4 L203.2 233.1 L208.2 233.1 L212.3 231.1 L221.8 214.8 L221.5 158"/>
<path class="k" d="M188.2 193.2 C188.5 191.6 189.1 185.9 189.9 183.6 C190.7 181.2 191.6 178.3 192.9 179.1 C194.1 179.8 196.1 184.5 197.4 188.2 C198.7 192 199.8 197.1 200.7 201.5 C201.6 206 202.4 209.7 202.9 214.8 C203.3 219.9 203.1 229.4 203.2 232.3"/>
<path class="k" d="M221.8 193.2 C221.5 191.6 220.6 185.8 219.8 183.6 C219 181.3 218.1 178.8 216.8 179.6 C215.6 180.3 213.6 184.6 212.3 188.2 C211 191.9 209.8 197.1 209 201.5 C208.2 206 207.7 209.7 207.3 214.8 C207 219.9 206.9 229.4 206.8 232.3"/>
<path class="k" d="M202.4 204.8 L207.3 204.8" style="stroke:#888;stroke-width:.8"/>
<circle class="k" cx="206.5" cy="359.8" r="24.1"/>
<path class="k" d="M226.1 365.1 L221.3 368.4 L220.9 374.2 L215.1 374.6 L211.8 379.4 L206.5 376.9 L201.3 379.4 L197.9 374.6 L192.2 374.2 L191.7 368.4 L186.9 365.1 L189.4 359.8 L186.9 354.6 L191.7 351.2 L192.2 345.5 L197.9 345 L201.3 340.2 L206.5 342.7 L211.8 340.2 L215.1 345 L220.9 345.5 L221.3 351.2 L226.1 354.6 L223.6 359.8Z" style="stroke-linejoin:round"/>
<path class="k" d="M189.4 370.3 L189.4 392.7M223.5 364.5 L223.5 392.7"/>
<path class="k" d="M189.4 392.4 L223.5 392.4" style="stroke:#777"/>
<path class="k" d="M160.3 392.4 L173.3 392.4M239.8 392.4 L253.1 392.4"/>
<path class="k" d="M169.1 388.9 L187.9 392.4 L169.1 395.9Z" style="fill:#1a1718;stroke-width:.6"/>
<path class="k" d="M243.9 388.9 L225.1 392.4 L243.9 395.9Z" style="fill:#1a1718;stroke-width:.6"/>
</g>
<path class="r" d="M774.3 96.6 L781.2 93.8 L796.3 114 L789.4 116.9 L790.6 157.6 L783.3 161.5 L781.8 115.7 L787.9 115.7Z" style="fill:#ed1c24"/>
<path class="r" d="M759.4 112 L774.3 96.6 L787.9 115.7 L781.8 115.7 L783 160.1 L767.6 158.4 L766.2 113.1Z" style="fill:#fff;stroke-width:1.2"/>
<path class="r" d="M763.6 189.1 C764 189.9 764.7 192.8 766.1 194.1 C767.5 195.4 770.1 196.5 771.9 197 C773.8 197.6 775 197.6 777 197.4 C778.9 197.3 781.7 197 783.7 196.2 C785.6 195.4 787.7 193.6 788.7 192.4 C789.8 191.2 789.8 189.6 790 189.1" style="fill:#fff;stroke-width:1.2"/>
<path class="r" d="M757.3 179 C757.8 180.1 758.5 183.9 760.2 185.7 C761.9 187.5 765 189 767.8 189.9 C770.5 190.8 773.8 191.2 777 191.2 C780.2 191.1 784.3 190.5 787 189.5 C789.8 188.4 792.2 186.7 793.8 184.9 C795.4 183 796.2 179.6 796.7 178.6" style="fill:#fff;stroke-width:1.2"/>
<ellipse class="r" style="fill:#fff;stroke-width:1.2" cx="777" cy="177.7" rx="19.7" ry="11.7"/>
<ellipse class="r" style="fill:#ed1c24" cx="776.7" cy="177.7" rx="11.3" ry="6.7"/>
<!-- 35_midleft.svg -->
<defs><clipPath id="cpML"><rect x="128" y="559" width="463" height="463"/></clipPath></defs>
<g clip-path="url(#cpML)">
<path class="k" d="M397 878.5 L438.4 907.6M444.6 912 L449.9 915.5M455.2 919 L465.8 926.6M481.6 937.5 L489.5 943.7" style="stroke-width:1"/>
<path class="r" d="M464.9 927.8 L468.4 923.4 L474.9 927.3 L471.9 933.6 L465.8 932.2Z" style="fill:#fff"/>
<ellipse class="r" style="fill:#fff" cx="476" cy="934" rx="3.5" ry="6.3" transform="rotate(-35 476 934)"/>
<ellipse class="r" style="fill:#fff" cx="479.5" cy="936.8" rx="3" ry="5.3" transform="rotate(-35 479.5 936.8)"/>
<path class="k" d="M496.9 942.9 L556 984M491.4 948 L553.7 989.1" style="stroke-width:1.9"/>
<path class="k" d="M496.9 942.9 C496.2 942.8 493.8 942 492.8 942.3 C491.7 942.6 490.7 943.8 490.5 944.8 C490.2 945.7 491.2 947.5 491.4 948M492.8 945.2 L498.8 947.1 L495.5 949.8" style="stroke-width:1.6"/>
<path class="kw" d="M556 984 C557 983.4 559.7 981.1 562 980.6 C564.2 980 566.6 979.8 569.4 980.8 C572.1 981.7 576.4 984.4 578.6 986.3 C580.7 988.1 581.7 990.9 582.3 991.8M582.3 991.8 L600 1004.7M600 1033.4 L578.6 1016.7M578.6 1016.7 C577.4 1015.9 573.4 1012.4 571.2 1011.7 C569.1 1011 567.8 1013 565.7 1012.6 C563.5 1012.2 560.3 1011 558.3 1009.4 C556.3 1007.7 554.4 1004 553.7 1002.9" style="stroke-width:1.9"/>
<ellipse class="kw" style="stroke-width:1.9" cx="557.2" cy="996.6" rx="4.8" ry="15.5" transform="rotate(15 557.2 996.6)"/>
<ellipse class="k" style="stroke-width:1.3" cx="559.4" cy="996" rx="3.7" ry="13.8" transform="rotate(15 559.4 996)"/>
<path class="k" d="M554.6 985.4 L558.8 983.7" style="stroke-width:1.2"/>
<path class="k" d="M554 990.9 L558.2 989.2" style="stroke-width:1.2"/>
<path class="k" d="M553.5 996.4 L557.6 994.8" style="stroke-width:1.2"/>
<path class="k" d="M552.9 1002 L557.1 1000.3" style="stroke-width:1.2"/>
<path class="k" d="M552.4 1007.5 L556.5 1005.9" style="stroke-width:1.2"/>
<path class="k" d="M592.4 1007.5 C590.6 1006.4 583.7 1001.6 581.4 1000.9 C579.1 1000.1 579 1001.6 578.6 1002.9 C578.2 1004.2 577.4 1006.1 579.1 1008.4 C580.7 1010.7 587.1 1015.4 588.7 1016.7M587.8 1018.6 C586.6 1017.5 582.1 1013.1 580.4 1012.1 C578.7 1011.2 578 1012.4 577.7 1013.1 C577.4 1013.7 577.2 1014.3 578.6 1015.8 C580 1017.4 584.7 1021.2 586 1022.3" style="stroke-width:1.4"/>
<path class="r" d="M512.1 965.1 C512.4 964.4 512.7 962.8 513.5 960.9 C514.4 959 515.3 956.2 517.2 953.8 C519.1 951.4 522.1 948.2 525.1 946.4 C528.1 944.6 532.3 943.2 535.2 942.9 C538.1 942.6 541.4 944.5 542.6 944.8M542.6 944.8 L549.1 949.8M549.1 949.8 C547.8 949.8 544.3 949 541.7 949.8 C539.1 950.7 536 952.7 533.4 954.9 C530.8 957.1 527.9 960.1 526 963.2 C524.1 966.4 522.5 972.1 521.8 973.8M521.8 973.8 L529.7 976.1 L514.5 980.3 L506.1 964.3" style="fill:#fff;stroke-width:1.2"/>
<path class="r" d="M521.8 973.8 C522.5 972.1 524.1 966.4 526 963.2 C527.9 960.1 530.8 957.1 533.4 954.9 C536 952.7 539.1 950.7 541.7 949.8 C544.3 949 546.8 949 549.1 949.8 C551.3 950.7 553.7 952.7 555.1 954.9 C556.4 957.1 557.2 960.1 557.2 963.2 C557.2 966.3 556 970.5 555.1 973.4 C554.1 976.3 552 979.4 551.4 980.6" style="stroke-width:3.3;stroke-linecap:butt"/>
<path class="r" d="M543.5 953.5 C543.8 954.2 545.3 955.8 545.4 957.7 C545.4 959.6 544.8 962.8 544 965.1 C543.2 967.3 541.3 970.1 540.8 971.1" style="stroke-width:1"/>
<path class="r" d="M529.7 982.6 L532.9 980.6 L535.2 983.5 L541.7 987.2 L545.4 989.1 L541.2 993.2 L536.1 990.4 L531.1 986.8Z" style="fill:#ed1c24;stroke-width:.6"/>
<path class="k" d="M529.7 965.7 L556 984M531.1 974.1 L553.7 989.1" style="stroke-width:1.9"/>
<path class="r" d="M430.2 963.1 L469.3 991.8 L466.1 996 L490.1 998.3 L488.7 1006.2 L460.5 1005.3 L463.1 999.2 L427 970.6Z" style="fill:#ed1c24"/>
<path class="r" d="M442.9 950.7 L482 980.7 L487.8 975.7 L490.1 998.3 L466.1 996 L469.3 991.8 L430.2 963.1Z" style="fill:#fff;stroke-width:1.2"/>
</g>
<!-- 40_icons.svg -->
<rect x="128" y="559.2" width="232" height="231" fill="#fff"/>
<path d="M128 559 H208 L128 637 Z" fill="#fff200"/>
<path d="M360.7 559 V791.3 H128" fill="none" stroke="#fff200" stroke-width="3"/>
<path d="M244.3 559 V790" class="k" style="stroke-width:2;stroke-linecap:butt"/>
<path d="M245 675.3 H359.3" class="k" style="stroke-width:1.2;stroke-linecap:butt"/>
<g style="stroke-width:1.1"><path class="k" d="M174.5 617.3 C174.3 616.3 173.1 613.3 173.3 611.4 C173.5 609.4 174.2 607.1 175.7 605.4 C177.2 603.7 180 602.2 182.2 601.3 C184.5 600.4 187 600 189.3 600.1 C191.7 600.2 194.5 600.9 196.5 601.9 C198.4 602.9 200.2 604.3 201.2 606 C202.2 607.7 202.6 609.9 202.6 612 C202.6 614 201.5 617.4 201.2 618.5"/>
<path class="k" d="M174.5 617.3 C175.4 617.8 177.6 619.5 179.9 620.3 C182.1 621 185.4 621.8 188.2 621.8 C190.9 621.9 194.3 621.2 196.5 620.6 C198.6 620.1 200.4 618.8 201.2 618.5"/>
<path class="k" d="M174.5 613.1 C175.8 612.7 179.4 610.9 182.2 610.2 C185.1 609.5 188.6 608.7 191.7 609 C194.9 609.3 199.6 611.5 201.2 612"/>
<path class="k" d="M183.2 600.1 C183.3 599.6 183.4 597.8 184 597.1 C184.6 596.5 186.1 596.1 187 596.2 C187.9 596.3 188.9 597.1 189.3 597.7 C189.8 598.4 189.6 599.7 189.7 600.1"/>
<path class="k" d="M175.1 619.7 L174.9 642.2 L174.5 649.3M201.2 619.7 L201.5 642.2 L201.8 649.3"/>
<path class="k" d="M174.5 649.3 C175 650.3 176 653.7 177.5 655.3 C179 656.8 181.4 657.9 183.4 658.6 C185.4 659.3 187.4 659.5 189.3 659.4 C191.3 659.4 193.5 659.1 195.3 658.2 C197.1 657.4 198.9 655.6 200 654.1 C201.1 652.6 201.5 650.1 201.8 649.3"/>
<ellipse class="k" cx="182.6" cy="627.7" rx="2.6" ry="3.6"/>
<ellipse class="k" cx="194.1" cy="627.4" rx="2.6" ry="3.6"/>
<ellipse class="k" style="fill:#1a1718" cx="182.3" cy="627.7" rx="1.1" ry="1.7"/>
<ellipse class="k" style="fill:#1a1718" cx="193.6" cy="627.4" rx="1.1" ry="1.7"/>
<path class="k" d="M180.8 624.4 C181.1 624.2 182.1 623 182.8 623 C183.5 623 184.5 624.2 184.8 624.4M192.1 624.1 C192.4 623.8 193.4 622.8 194.1 622.8 C194.8 622.8 195.9 623.8 196.2 624.1"/>
<path class="k" d="M189.3 631.5 C189.8 632.2 192.1 634.5 192.3 635.7 C192.5 636.9 191.5 638.2 190.5 638.7 C189.5 639.2 187.1 638.7 186.4 638.7"/>
<path class="k" d="M179.3 642.2 C180 642.7 181.7 644.6 183.4 645.2 C185.1 645.8 187.5 646.2 189.3 646 C191.2 645.8 193.8 644.3 194.7 644"/>
<path class="k" d="M188.2 651.1 C188.8 650.6 190.3 648.5 191.7 648.2 C193.1 647.9 195.7 649.1 196.5 649.3"/>
<path class="k" d="M174.5 649.3 L171.5 645.2 L174.5 644M201.8 649.3 L206 645.2 L201.8 644"/>
<path class="k" d="M174.5 649.9 C173 650.3 168.5 650.8 165.6 652.3 C162.7 653.8 159.9 655.8 157.3 658.8 C154.7 661.9 152.2 666.4 150.2 670.7 C148.2 675.1 146.6 679.6 145.4 685 C144.2 690.3 143.8 698.1 143.1 702.8 C142.3 707.4 141.1 711.2 140.7 712.8M140.7 712.8 L155.5 718.8"/>
<path class="k" d="M201.8 649.9 C203.5 650.2 208.8 650.3 211.9 651.7 C215 653.1 217.6 655.1 220.2 658.2 C222.8 661.4 225.5 666.3 227.3 670.7 C229.2 675.2 230.4 679.6 231.5 685 C232.6 690.3 233.1 698.1 233.9 702.8 C234.6 707.4 235.5 711.2 235.9 712.8M235.9 712.8 L220.8 718.8"/>
<path class="k" d="M161.1 693.3 L156.7 730.1M215.7 693.3 L220.4 730.1"/>
<path class="k" d="M143.1 717 C142.6 717.6 140.3 719 140.1 720.6 C139.9 722.1 140.8 725.2 141.9 726.5 C143 727.8 145.5 727.5 146.6 728.3 C147.7 729.1 147.6 731 148.4 731.2 C149.2 731.4 150.4 729.5 151.4 729.5 C152.4 729.5 153.6 731.5 154.3 731.2 C155 730.9 155.3 729.8 155.5 727.7 C155.7 725.6 155.5 720.3 155.5 718.8"/>
<path class="k" d="M233.9 717 C234.3 717.6 236.4 719 236.6 720.6 C236.8 722.1 236.1 725.2 235 726.5 C234 727.8 231.4 727.5 230.3 728.3 C229.2 729.1 229.3 731 228.5 731.2 C227.7 731.4 226.5 729.5 225.5 729.5 C224.6 729.5 223.4 731.5 222.6 731.2 C221.8 730.9 221.1 729.8 220.8 727.7 C220.5 725.6 220.8 720.3 220.8 718.8"/>
<path class="k" d="M156.7 730.1 C156.5 730.5 153 731.5 155.5 732.4 C158 733.3 165.9 734.8 171.5 735.4 C177.2 736 183.4 736.1 189.3 736 C195.3 735.9 202 735.7 207.2 735 C212.3 734.4 218 732.7 220.2 731.8 C222.4 731 220.4 730.4 220.4 730.1"/>
<path class="k" d="M187 698 C187.3 700.8 188.2 708.4 188.8 714.6 C189.3 720.9 190.2 731.9 190.5 735.4"/>
<path class="k" d="M171.5 654.1 L167.4 666.6 L181 677.2 L179.3 684.4 L184 688.5 L187 698"/>
<path class="k" d="M202.6 654.1 L206.9 666.6 L194.1 676.6 L195 685 L189.3 689.1"/>
<path class="k" d="M177.5 656.5 C178.4 658.8 181 664.4 182.8 670.7 C184.6 677 187.3 690.5 188.2 694.5M196.5 660 C195.7 662.2 193.1 668.3 191.7 673.1 C190.4 677.8 189 685.9 188.4 688.5"/>
<rect class="kw" x="198.2" y="678.2" width="15.4" height="26.4" style="stroke-width:1"/>
<circle cx="206" cy="695" r="6.9" fill="#fff200"/>
<path class="k" d="M205 686.7 L206.9 686.7 L205.7 693.3 L207.7 693.3 L206.6 700.4 L207.4 700.4 L206 702.8 L204.8 700.4 L205.6 700.4 L206.2 695 L203.8 695Z" style="fill:#1a1718;stroke-width:.4"/>
<ellipse class="k" cx="201" cy="681.4" rx="0.9" ry="0.9"/>
<ellipse class="k" cx="210.7" cy="681.4" rx="0.9" ry="0.9"/>
<path class="k" d="M199.4 685 C200.5 684.7 203.7 683.2 206 683.2 C208.2 683.2 211.9 684.7 213.1 685"/>
<path class="k" d="M164.4 734.2 L166.2 745.5M182 735.8 L180.8 745.5M194.7 735.8 L195.9 745.5M212.5 734.2 L211.3 745.5"/>
<path class="k" d="M163.6 746.7 C164.9 746.9 168.5 748 171.5 747.9 C174.6 747.7 180.2 746.1 182 745.7M163.6 746.7 C163.6 749.1 164.2 757.4 163.8 760.9 C163.5 764.5 161.8 766 161.5 768 C161.2 770.1 161.2 772 162 773.4 C162.9 774.7 164.6 775.7 166.8 776.1 C169 776.6 172.7 776.6 175.1 776.1 C177.5 775.7 179.8 774.7 181 773.4 C182.3 772 182.6 770.1 182.8 768 C183 766 182.4 764.6 182.2 760.9 C182.1 757.2 182 748.3 182 745.7"/>
<path class="k" d="M162.6 766.9 C163.3 765.9 165.1 762.2 166.8 760.9 C168.5 759.6 170.8 759.1 172.7 759.1 C174.7 759.1 177.1 759.8 178.7 760.9 C180.2 762 181.6 764.9 182.2 765.7"/>
<path class="k" d="M194.7 745.7 C196.4 746.1 201.7 747.7 204.8 747.9 C207.8 748 211.7 746.7 213.1 746.4M194.7 745.7 C194.7 748.3 194.9 757.2 194.7 760.9 C194.5 764.6 193.5 765.9 193.5 768 C193.5 770.2 193.6 772.6 194.7 774 C195.8 775.4 197.8 776 200 776.4 C202.3 776.7 206.1 776.7 208.3 776.4 C210.6 776 212.6 775.4 213.7 774 C214.8 772.6 215 770.2 214.9 768 C214.8 765.9 213.4 764.5 213.1 760.9 C212.8 757.3 213.1 748.9 213.1 746.4"/>
<path class="k" d="M194.1 766.9 C194.7 766 196 762.8 197.7 761.5 C199.3 760.2 202 759.1 204.2 759.1 C206.4 759.1 209 760.2 210.7 761.5 C212.4 762.8 213.7 766 214.3 766.9"/></g>
<path d="M302.6 580.9 L344.3 653.1 H260.5 Z" fill="#231f20" stroke="#231f20" stroke-width="8.05" stroke-linejoin="round"/>
<path d="M302.6 588 L338.1 649.6 H266.7 Z" fill="#ebe723"/>
<path class="k" d="M298.9 606.3 L305.6 606.1 L302.2 618.9 L309.1 619.6 L307.4 634.7 L310.4 634.5 L304.4 646.3 L299 634.3 L303.2 634.8 L304.1 625.6 L295.6 626.6Z" style="fill:#231f20;stroke:none"/>
<circle cx="312.5" cy="700" r="6.2" fill="#231f20"/>
<path class="k" d="M304.2 708.7 L324.5 708.2 L322 717.3 L322 733.4 L318.5 742.5 L304.4 736.9Z" style="fill:#231f20;stroke:none"/>
<path class="k" d="M324 710.7 L349.2 736.6" style="stroke:#231f20;stroke-width:5.2"/>
<path class="k" d="M274.2 709.2 L306.4 708.2 L318.5 708.7 L306.4 714.8 L276.4 714.8 L273.7 712.3Z" style="fill:#231f20;stroke:#231f20;stroke-width:.8"/>
<path class="k" d="M308.4 739.4 L262.8 759.6" style="stroke:#231f20;stroke-width:6"/>
<path class="k" d="M317 738.4 L290.5 775.9" style="stroke:#231f20;stroke-width:6"/>
<path class="k" d="M277.2 709.4 L318.7 712.1 L313.3 716.3 L321.7 718.3 L308.4 723.5 L322.3 731.2" style="stroke:#fff;stroke-width:1.5;stroke-linejoin:miter"/>
<path class="k" d="M304.4 713.5 L318.7 712.1 L313.3 716.3 L321.7 718.3 L308.4 723.5 L322.3 731.2" style="stroke:#fff;stroke-width:2;stroke-linejoin:miter"/>
<path class="k" d="M251.6 699.7 C252.3 700 254.5 701.4 256.1 701.7 C257.7 701.9 259.5 701.3 261.1 701.2 C262.7 701 264.3 700.3 265.6 700.7 C267 701 268 702 269.2 703.2 C270.3 704.4 272.1 707 272.7 707.7" style="stroke-width:1.4"/>
<!-- 50_right.svg -->
<circle cx="735" cy="618.5" r="40.3" fill="#24479f"/>
<path d="M669 674.2 H823.5" class="k" style="stroke-width:1.3"/>
<rect x="823" y="558" width="310.7" height="116.6" fill="#231f20"/>
<rect x="831.8" y="566.7" width="18.6" height="17.8" fill="#fff"/>
<circle cx="841.1" cy="575.8" r="7.2" fill="none" stroke="#231f20" stroke-width="1"/>
<path d="M841.1 568.5 V575.5 M837.2 570 V574 A3.9 3.9 0 0 0 845 574 V570" fill="none" stroke="#231f20" stroke-width=".9"/>
<circle cx="836.3" cy="577.5" r="1" fill="none" stroke="#231f20" stroke-width=".6"/><circle cx="846" cy="577.5" r="1" fill="none" stroke="#231f20" stroke-width=".6"/>
<text x="852.6" y="580.3" font-family="Liberation Sans, sans-serif" font-weight="700" font-size="18.3" fill="#fff" stroke="#fff" stroke-width=".55" textLength="67" lengthAdjust="spacingAndGlyphs">BECKER</text>
<rect x="852.9" y="581.9" width="66.9" height="3" fill="#fff"/>
<text x="945" y="582.5" font-family="Liberation Sans, sans-serif" font-size="9" fill="#fff">~</text>
<text y="583.9" font-family="Liberation Sans, sans-serif" font-weight="700" font-size="26.5" fill="#fff"><tspan x="1092.3" textLength="11.4" lengthAdjust="spacingAndGlyphs">C</tspan><tspan x="1108.6" textLength="12" lengthAdjust="spacingAndGlyphs">E</tspan></text>
<rect x="851.9" y="596.4" width="256.6" height="40.1" fill="none" stroke="#f04e1d" stroke-width="3.2"/>
<path d="M979.7 602.3 V658.7" stroke="#fff" stroke-width="1.2"/>
<circle cx="839.3" cy="617.6" r="6.7" fill="none" stroke="#fff" stroke-width="1"/>
<circle cx="1117.3" cy="617.6" r="6.7" fill="none" stroke="#fff" stroke-width="1"/>
<path d="M961.7 615.4 L965.1 621 H958.3000000000001 Z" fill="none" stroke="#fff" stroke-width="1"/>
<path d="M1087.4 615.4 L1090.8000000000002 621 H1084.0 Z" fill="none" stroke="#fff" stroke-width="1"/>
<path d="M881.8000000000001 641.7 H885.4 M883.6 641.7 V646" fill="none" stroke="#fff" stroke-width="1.1"/>
<path d="M1007.5 641.7 H1011.0999999999999 M1009.3 641.7 V646" fill="none" stroke="#fff" stroke-width="1.1"/>
<path d="M989.9 919.2 L1047.4 878.7 L1048.5 880.3 L1043.4 905.8 L986.3 950.3 L985.6 947.4 Z" fill="#8389ce"/>
<path d="M742.5 674.5 V701.4 L1020.5 909.8" fill="none" stroke="#fff" stroke-width="4.5" stroke-linecap="round" stroke-linejoin="miter"/>
<path d="M742.5 674.5 V701.4 L1020.5 909.8" fill="none" stroke="#ed1c24" stroke-width="2.6" stroke-linecap="round" stroke-linejoin="miter"/>
<rect x="1017.5" y="1049" width="116" height="115.2" fill="#fff"/>
<path d="M1017.5 1049 V1164.2 H1133.6" class="k" style="stroke-width:1.2"/>
<path d="M1129 1155 L1133 1159 V1164 H1129Z" fill="#fff200"/>
<defs><g id="warn"><path d="M1076 1067 L1118.3 1139.7 H1033.8 Z" fill="#231f20" stroke="#231f20" stroke-width="7" stroke-linejoin="round"/><path d="M1075.9 1074.4 L1112 1136 H1040.2 Z" fill="#fff200"/><path d="M1071.2 1092 Q1071 1088.7 1075.9 1088.7 Q1080.8 1088.7 1080.6 1092 L1078.9 1116 Q1078.7 1118.3 1075.9 1118.3 Q1073.1 1118.3 1072.9 1116 Z" fill="#231f20"/><circle cx="1075.9" cy="1126.4" r="6.3" fill="#231f20"/></g></defs>
<use href="#warn"/>
<path d="M926.3 1142.3 L976.8 1105.3 H1017.5" class="k" style="stroke-width:1.2"/>
<path class="kw" d="M902.7 1124.2 L938.9 1140.3 L934.4 1146.3M934.4 1146.3 C936 1148.8 940.9 1155.7 944.4 1161.4 C948 1167.1 953.7 1177.3 955.5 1180.5M955.5 1180.5 L949.5 1187.8 L945.9 1186.6" style="stroke-width:1"/>
<path class="r" d="M904 1126 C905.1 1127.5 908.4 1131.9 910.5 1135.2 C912.6 1138.6 914.8 1142.4 916.5 1146.1 C918.2 1149.8 920 1155.3 920.7 1157.2M920.7 1157.2 L923.9 1158.4" style="stroke-width:3.2;stroke-linecap:butt;stroke-linejoin:miter"/>
<path class="r" d="M928.1 1154.9 C929.6 1156.9 934.1 1163.1 936.9 1167.2 C939.7 1171.4 943 1176.8 944.9 1180 C946.9 1183.3 947.9 1185.7 948.5 1186.8" style="stroke-width:3.2;stroke-linecap:butt"/>
<path class="r" d="M920.3 1157.6 L924.3 1159.2 L928.5 1154.4" style="stroke-width:1.6;stroke-linejoin:miter"/>
<path d="M926.3 1142.3 L976.8 1105.3" class="k" style="stroke-width:1.2"/>
<path d="M823.2 1512 V1358.2 H1133.6" class="k" style="stroke-width:1.2"/>
<path d="M901.4 1358 V1512" class="k" style="stroke-width:2;stroke-linecap:butt"/>
<path d="M946.7 1425 C946.7 1400.4 967.7 1383.3 1001.8 1383.3" fill="none" stroke="#ed1c24" stroke-width="13.6"/>
<path d="M929 1423.6 L964.4 1423.6 L946.7 1443.2 Z" fill="#ed1c24"/>
<path d="M1000.4 1365.5 L1000.4 1401 L1021.1 1382.7 Z" fill="#ed1c24"/>
<rect x="1027.6" y="1374" width="18.6" height="19.6" fill="#fff" stroke="#ed1c24" stroke-width="1.6"/>
<text x="1036.9" y="1388" text-anchor="middle" font-family="Liberation Sans, sans-serif" font-weight="700" font-size="12" fill="#231f20">I</text>
<rect x="935.8" y="1446.8" width="20.4" height="20.4" fill="#fff" stroke="#ed1c24" stroke-width="1.6"/>
<text x="946" y="1461" text-anchor="middle" font-family="Liberation Sans, sans-serif" font-weight="700" font-size="11" fill="#231f20">0</text>
<rect x="1001.2" y="1407.6" width="99.7" height="99.3" rx="4.8" class="kw" style="stroke-width:1.5"/>
<path d="M1097.7 1457.4L1097.7 1457L1097.7 1456.6L1097.7 1456.2L1097.7 1455.8L1097.7 1455.4L1097.6 1455L1097.6 1454.6L1097.6 1454.2L1097.6 1453.8L1097.5 1453.4L1097.5 1453L1097.4 1452.6L1097.4 1452.2L1097.4 1451.8L1097.3 1451.4L1097.2 1451L1097.2 1450.6L1097.1 1450.2L1097 1449.8L1096.9 1449.4L1096.7 1449L1096.4 1448.7L1096.1 1448.3L1095.7 1448L1095.3 1447.7L1094.9 1447.4L1094.5 1447.1L1094 1446.8L1093.6 1446.5L1093.2 1446.2L1092.9 1445.9L1092.5 1445.6L1092.2 1445.3L1092 1445L1091.8 1444.7L1091.6 1444.3L1091.5 1444L1091.5 1443.6L1091.5 1443.2L1091.6 1442.8L1091.7 1442.3L1091.8 1441.9L1092 1441.4L1092.2 1440.9L1092.3 1440.4L1092.5 1440L1092.7 1439.5L1092.8 1439L1092.9 1438.5L1092.9 1438L1092.9 1437.6L1092.9 1437.2L1092.8 1436.8L1092.7 1436.4L1092.5 1436L1092.3 1435.7L1092.1 1435.3L1091.9 1435L1091.7 1434.6L1091.5 1434.2L1091.3 1433.9L1091.1 1433.6L1090.9 1433.2L1090.7 1432.9L1090.4 1432.5L1090.2 1432.2L1090 1431.8L1089.8 1431.5L1089.6 1431.2L1089.3 1430.8L1089.1 1430.5L1088.9 1430.2L1088.6 1429.9L1088.4 1429.5L1088.1 1429.2L1087.9 1428.9L1087.6 1428.6L1087.4 1428.3L1087.1 1427.9L1086.9 1427.6L1086.6 1427.3L1086.3 1427L1086.1 1426.7L1085.8 1426.4L1085.5 1426.1L1085.3 1425.8L1085 1425.5L1084.7 1425.2L1084.4 1424.9L1084.1 1424.7L1083.8 1424.4L1083.5 1424.2L1083.1 1424L1082.7 1423.9L1082.2 1423.8L1081.7 1423.7L1081.2 1423.7L1080.7 1423.7L1080.2 1423.7L1079.7 1423.7L1079.1 1423.7L1078.6 1423.7L1078.2 1423.7L1077.7 1423.7L1077.3 1423.6L1076.9 1423.5L1076.6 1423.4L1076.3 1423.2L1076 1422.9L1075.7 1422.7L1075.5 1422.3L1075.3 1421.9L1075.1 1421.5L1075 1421.1L1074.8 1420.6L1074.7 1420.1L1074.5 1419.6L1074.4 1419.1L1074.2 1418.6L1074.1 1418.2L1073.8 1417.7L1073.6 1417.3L1073.4 1416.9L1073.1 1416.6L1072.8 1416.4L1072.4 1416.1L1072.1 1416L1071.7 1415.8L1071.3 1415.6L1071 1415.4L1070.6 1415.3L1070.2 1415.1L1069.9 1414.9L1069.5 1414.8L1069.1 1414.6L1068.7 1414.5L1068.4 1414.3L1068 1414.2L1067.6 1414L1067.2 1413.9L1066.9 1413.8L1066.5 1413.6L1066.1 1413.5L1065.7 1413.4L1065.3 1413.2L1064.9 1413.1L1064.5 1413L1064.2 1412.9L1063.8 1412.8L1063.4 1412.7L1063 1412.6L1062.6 1412.5L1062.2 1412.4L1061.8 1412.3L1061.4 1412.2L1061 1412.1L1060.6 1412L1060.2 1412L1059.8 1411.9L1059.4 1411.8L1059 1411.7L1058.6 1411.7L1058.2 1411.6L1057.8 1411.7L1057.4 1411.8L1057 1411.9L1056.6 1412.1L1056.1 1412.3L1055.7 1412.6L1055.3 1412.9L1054.9 1413.2L1054.5 1413.6L1054.1 1413.9L1053.7 1414.2L1053.3 1414.4L1052.9 1414.7L1052.5 1414.8L1052.1 1415L1051.8 1415.1L1051.4 1415.1L1051 1415.1L1050.7 1415L1050.3 1414.8L1049.9 1414.7L1049.5 1414.4L1049.1 1414.2L1048.7 1413.9L1048.3 1413.6L1047.9 1413.2L1047.5 1412.9L1047.1 1412.6L1046.7 1412.3L1046.2 1412.1L1045.8 1411.9L1045.4 1411.8L1045 1411.7L1044.6 1411.6L1044.2 1411.7L1043.8 1411.7L1043.4 1411.8L1043 1411.9L1042.6 1412L1042.2 1412L1041.8 1412.1L1041.4 1412.2L1041 1412.3L1040.6 1412.4L1040.2 1412.5L1039.8 1412.6L1039.4 1412.7L1039 1412.8L1038.6 1412.9L1038.3 1413L1037.9 1413.1L1037.5 1413.2L1037.1 1413.4L1036.7 1413.5L1036.3 1413.6L1035.9 1413.8L1035.6 1413.9L1035.2 1414L1034.8 1414.2L1034.4 1414.3L1034.1 1414.5L1033.7 1414.6L1033.3 1414.8L1032.9 1414.9L1032.6 1415.1L1032.2 1415.3L1031.8 1415.4L1031.5 1415.6L1031.1 1415.8L1030.7 1416L1030.4 1416.1L1030 1416.4L1029.7 1416.6L1029.4 1416.9L1029.2 1417.3L1029 1417.7L1028.8 1418.2L1028.6 1418.6L1028.4 1419.1L1028.3 1419.6L1028.1 1420.1L1028 1420.6L1027.8 1421.1L1027.7 1421.5L1027.5 1421.9L1027.3 1422.3L1027.1 1422.7L1026.8 1422.9L1026.5 1423.2L1026.2 1423.4L1025.9 1423.5L1025.5 1423.6L1025.1 1423.7L1024.6 1423.7L1024.2 1423.7L1023.7 1423.7L1023.1 1423.7L1022.6 1423.7L1022.1 1423.7L1021.6 1423.7L1021.1 1423.7L1020.6 1423.8L1020.1 1423.9L1019.7 1424L1019.3 1424.2L1019 1424.4L1018.7 1424.7L1018.4 1424.9L1018.1 1425.2L1017.8 1425.5L1017.5 1425.8L1017.3 1426.1L1017 1426.4L1016.7 1426.7L1016.5 1427L1016.2 1427.3L1015.9 1427.6L1015.7 1427.9L1015.4 1428.3L1015.2 1428.6L1014.9 1428.9L1014.7 1429.2L1014.4 1429.5L1014.2 1429.9L1013.9 1430.2L1013.7 1430.5L1013.5 1430.8L1013.2 1431.2L1013 1431.5L1012.8 1431.8L1012.6 1432.2L1012.4 1432.5L1012.1 1432.9L1011.9 1433.2L1011.7 1433.6L1011.5 1433.9L1011.3 1434.2L1011.1 1434.6L1010.9 1435L1010.7 1435.3L1010.5 1435.7L1010.3 1436L1010.1 1436.4L1010 1436.8L1009.9 1437.2L1009.9 1437.6L1009.9 1438L1009.9 1438.5L1010 1439L1010.1 1439.5L1010.3 1440L1010.5 1440.4L1010.6 1440.9L1010.8 1441.4L1011 1441.9L1011.1 1442.3L1011.2 1442.8L1011.3 1443.2L1011.3 1443.6L1011.3 1444L1011.2 1444.3L1011 1444.7L1010.8 1445L1010.6 1445.3L1010.3 1445.6L1009.9 1445.9L1009.6 1446.2L1009.2 1446.5L1008.8 1446.8L1008.3 1447.1L1007.9 1447.4L1007.5 1447.7L1007.1 1448L1006.7 1448.3L1006.4 1448.7L1006.1 1449L1005.9 1449.4L1005.8 1449.8L1005.7 1450.2L1005.6 1450.6L1005.6 1451L1005.5 1451.4L1005.4 1451.8L1005.4 1452.2L1005.4 1452.6L1005.3 1453L1005.3 1453.4L1005.2 1453.8L1005.2 1454.2L1005.2 1454.6L1005.2 1455L1005.1 1455.4L1005.1 1455.8L1005.1 1456.2L1005.1 1456.6L1005.1 1457L1005.1 1457.4L1005.1 1457.8L1005.1 1458.2L1005.1 1458.6L1005.1 1459L1005.1 1459.4L1005.2 1459.8L1005.2 1460.2L1005.2 1460.6L1005.2 1461L1005.3 1461.4L1005.3 1461.8L1005.4 1462.2L1005.4 1462.6L1005.4 1463L1005.5 1463.4L1005.6 1463.8L1005.6 1464.2L1005.7 1464.6L1005.8 1465L1005.9 1465.4L1006.1 1465.8L1006.4 1466.1L1006.7 1466.5L1007.1 1466.8L1007.5 1467.1L1007.9 1467.4L1008.3 1467.7L1008.8 1468L1009.2 1468.3L1009.6 1468.6L1009.9 1468.9L1010.3 1469.2L1010.6 1469.5L1010.8 1469.8L1011 1470.1L1011.2 1470.5L1011.3 1470.8L1011.3 1471.2L1011.3 1471.6L1011.2 1472L1011.1 1472.5L1011 1472.9L1010.8 1473.4L1010.6 1473.9L1010.5 1474.4L1010.3 1474.8L1010.1 1475.3L1010 1475.8L1009.9 1476.3L1009.9 1476.8L1009.9 1477.2L1009.9 1477.6L1010 1478L1010.1 1478.4L1010.3 1478.8L1010.5 1479.1L1010.7 1479.5L1010.9 1479.8L1011.1 1480.2L1011.3 1480.6L1011.5 1480.9L1011.7 1481.2L1011.9 1481.6L1012.1 1481.9L1012.4 1482.3L1012.6 1482.6L1012.8 1483L1013 1483.3L1013.2 1483.6L1013.5 1484L1013.7 1484.3L1013.9 1484.6L1014.2 1484.9L1014.4 1485.3L1014.7 1485.6L1014.9 1485.9L1015.2 1486.2L1015.4 1486.5L1015.7 1486.9L1015.9 1487.2L1016.2 1487.5L1016.5 1487.8L1016.7 1488.1L1017 1488.4L1017.3 1488.7L1017.5 1489L1017.8 1489.3L1018.1 1489.6L1018.4 1489.9L1018.7 1490.1L1019 1490.4L1019.3 1490.6L1019.7 1490.8L1020.1 1490.9L1020.6 1491L1021.1 1491.1L1021.6 1491.1L1022.1 1491.1L1022.6 1491.1L1023.1 1491.1L1023.7 1491.1L1024.2 1491.1L1024.6 1491.1L1025.1 1491.1L1025.5 1491.2L1025.9 1491.3L1026.2 1491.4L1026.5 1491.6L1026.8 1491.9L1027.1 1492.1L1027.3 1492.5L1027.5 1492.9L1027.7 1493.3L1027.8 1493.7L1028 1494.2L1028.1 1494.7L1028.3 1495.2L1028.4 1495.7L1028.6 1496.2L1028.8 1496.6L1029 1497.1L1029.2 1497.5L1029.4 1497.9L1029.7 1498.2L1030 1498.4L1030.4 1498.7L1030.7 1498.8L1031.1 1499L1031.5 1499.2L1031.8 1499.4L1032.2 1499.5L1032.6 1499.7L1032.9 1499.9L1033.3 1500L1033.7 1500.2L1034.1 1500.3L1034.4 1500.5L1034.8 1500.6L1035.2 1500.8L1035.6 1500.9L1035.9 1501L1036.3 1501.2L1036.7 1501.3L1037.1 1501.4L1037.5 1501.6L1037.9 1501.7L1038.3 1501.8L1038.6 1501.9L1039 1502L1039.4 1502.1L1039.8 1502.2L1040.2 1502.3L1040.6 1502.4L1041 1502.5L1041.4 1502.6L1041.8 1502.7L1042.2 1502.8L1042.6 1502.8L1043 1502.9L1043.4 1503L1043.8 1503.1L1044.2 1503.1L1044.6 1503.2L1045 1503.1L1045.4 1503L1045.8 1502.9L1046.2 1502.7L1046.7 1502.5L1047.1 1502.2L1047.5 1501.9L1047.9 1501.6L1048.3 1501.2L1048.7 1500.9L1049.1 1500.6L1049.5 1500.4L1049.9 1500.1L1050.3 1500L1050.7 1499.8L1051 1499.7L1051.4 1499.7L1051.8 1499.7L1052.1 1499.8L1052.5 1500L1052.9 1500.1L1053.3 1500.4L1053.7 1500.6L1054.1 1500.9L1054.5 1501.2L1054.9 1501.6L1055.3 1501.9L1055.7 1502.2L1056.1 1502.5L1056.6 1502.7L1057 1502.9L1057.4 1503L1057.8 1503.1L1058.2 1503.2L1058.6 1503.1L1059 1503.1L1059.4 1503L1059.8 1502.9L1060.2 1502.8L1060.6 1502.8L1061 1502.7L1061.4 1502.6L1061.8 1502.5L1062.2 1502.4L1062.6 1502.3L1063 1502.2L1063.4 1502.1L1063.8 1502L1064.2 1501.9L1064.5 1501.8L1064.9 1501.7L1065.3 1501.6L1065.7 1501.4L1066.1 1501.3L1066.5 1501.2L1066.9 1501L1067.2 1500.9L1067.6 1500.8L1068 1500.6L1068.4 1500.5L1068.7 1500.3L1069.1 1500.2L1069.5 1500L1069.9 1499.9L1070.2 1499.7L1070.6 1499.5L1071 1499.4L1071.3 1499.2L1071.7 1499L1072.1 1498.8L1072.4 1498.7L1072.8 1498.4L1073.1 1498.2L1073.4 1497.9L1073.6 1497.5L1073.8 1497.1L1074.1 1496.6L1074.2 1496.2L1074.4 1495.7L1074.5 1495.2L1074.7 1494.7L1074.8 1494.2L1075 1493.7L1075.1 1493.3L1075.3 1492.9L1075.5 1492.5L1075.7 1492.1L1076 1491.9L1076.3 1491.6L1076.6 1491.4L1076.9 1491.3L1077.3 1491.2L1077.7 1491.1L1078.2 1491.1L1078.6 1491.1L1079.1 1491.1L1079.7 1491.1L1080.2 1491.1L1080.7 1491.1L1081.2 1491.1L1081.7 1491.1L1082.2 1491L1082.7 1490.9L1083.1 1490.8L1083.5 1490.6L1083.8 1490.4L1084.1 1490.1L1084.4 1489.9L1084.7 1489.6L1085 1489.3L1085.3 1489L1085.5 1488.7L1085.8 1488.4L1086.1 1488.1L1086.3 1487.8L1086.6 1487.5L1086.9 1487.2L1087.1 1486.9L1087.4 1486.5L1087.6 1486.2L1087.9 1485.9L1088.1 1485.6L1088.4 1485.3L1088.6 1484.9L1088.9 1484.6L1089.1 1484.3L1089.3 1484L1089.6 1483.6L1089.8 1483.3L1090 1483L1090.2 1482.6L1090.4 1482.3L1090.7 1481.9L1090.9 1481.6L1091.1 1481.2L1091.3 1480.9L1091.5 1480.6L1091.7 1480.2L1091.9 1479.8L1092.1 1479.5L1092.3 1479.1L1092.5 1478.8L1092.7 1478.4L1092.8 1478L1092.9 1477.6L1092.9 1477.2L1092.9 1476.8L1092.9 1476.3L1092.8 1475.8L1092.7 1475.3L1092.5 1474.8L1092.3 1474.4L1092.2 1473.9L1092 1473.4L1091.8 1472.9L1091.7 1472.5L1091.6 1472L1091.5 1471.6L1091.5 1471.2L1091.5 1470.8L1091.6 1470.5L1091.8 1470.1L1092 1469.8L1092.2 1469.5L1092.5 1469.2L1092.9 1468.9L1093.2 1468.6L1093.6 1468.3L1094 1468L1094.5 1467.7L1094.9 1467.4L1095.3 1467.1L1095.7 1466.8L1096.1 1466.5L1096.4 1466.1L1096.7 1465.8L1096.9 1465.4L1097 1465L1097.1 1464.6L1097.2 1464.2L1097.2 1463.8L1097.3 1463.4L1097.4 1463L1097.4 1462.6L1097.4 1462.2L1097.5 1461.8L1097.5 1461.4L1097.6 1461L1097.6 1460.6L1097.6 1460.2L1097.6 1459.8L1097.7 1459.4L1097.7 1459L1097.7 1458.6L1097.7 1458.2L1097.7 1457.8L1097.7 1457.4Z" class="kw" style="stroke-width:1.5"/>
<circle cx="1051.4" cy="1457.4" r="36.3" class="k" style="stroke-width:1.1"/>
<path d="M1040.5 1446.8 H1104 Q1105.8 1446.8 1105.8 1448.6 V1465.7 Q1105.8 1467.5 1104 1467.5 H1040.5 Q1036.3 1457.2 1040.5 1446.8Z" class="kw" style="stroke-width:1.5"/>
<circle cx="1067.5" cy="1457.4" r="5.1" class="k" style="stroke-width:1"/>
<path d="M1067.5 1453.6 L1068.6 1456.3 L1071.3 1457.4 L1068.6 1458.5 L1067.5 1461.2 L1066.4 1458.5 L1063.7 1457.4 L1066.4 1456.3Z" class="k" style="stroke-width:.8"/>
<circle cx="1067.5" cy="1457.4" r="3.6" class="k" style="stroke-width:.7"/>
<path d="M1019.6 1446.1 H1034.8 Q1033 1457 1034.8 1468 H1020.2 Q1017.6 1457 1019.6 1446.1Z" fill="#fff" stroke="#ed1c24" stroke-width="1"/>
<text x="1027.2" y="1455.2" text-anchor="middle" font-family="Liberation Sans, sans-serif" font-size="9.1" fill="#231f20">O</text>
<text x="1027.2" y="1464" text-anchor="middle" font-family="Liberation Sans, sans-serif" font-size="6.3" fill="#231f20">OFF</text>
<!-- 60_botleft.svg -->
<path d="M354 1049 V1325" fill="none" stroke="#1a1718" stroke-width="1.7" stroke-dasharray="7 4.5"/>
<path d="M354 1133.4 H590" fill="none" stroke="#1a1718" stroke-width="1.1" stroke-dasharray="5.1 3.7"/>
<path d="M127 1330.7 H586.5" fill="none" stroke="#1a1718" stroke-width="3"/>
<defs><clipPath id="cpL1"><rect x="128" y="1049" width="226" height="280"/></clipPath></defs>
<g clip-path="url(#cpL1)">
<path class="k" d="M207.6 1071.2 C208.1 1070.3 209.2 1067.2 210.6 1066.1 C211.9 1065.1 214.8 1065 215.6 1064.7M215.6 1064.7 L226.7 1064.7"/>
<path class="k" d="M354.5 1063.1 L226.7 1063.1 L226.7 1072.2M226.7 1066.5 L354.5 1066.5" style="stroke-width:1.6"/>
<path class="k" d="M354.5 1072.8 L216.6 1072.8M216.6 1072.8 C216.1 1073.2 214.2 1074.1 213.6 1075.2 C213 1076.3 213.3 1078.6 213.2 1079.2M213.2 1079.2 L216.6 1185.9 L354.5 1185.9"/>
<path class="k" d="M227.7 1213.1 L354.5 1213.1M247.8 1231.8 L354.5 1231.8M253.9 1238.3 L354.5 1238.3M352.9 1231.8 L352.9 1238.3"/>
<path class="k" d="M198.5 1131.6 C198.7 1137.3 198.6 1154.7 199.9 1165.8 C201.2 1176.9 203.8 1189.2 206.5 1198 C209.3 1206.8 214.9 1215.1 216.6 1218.6"/>
<path class="k" d="M225.7 1185.9 C225.8 1188.6 226.3 1197.5 226.7 1202 C227 1206.6 227.5 1211.3 227.7 1213.1"/>
<path class="k" d="M197.1 1219.8 L224.7 1219.8" style="stroke-width:2.2"/>
<path class="k" d="M197.1 1204.1 L202.5 1214.1 L224.7 1218.6"/>
<path class="k" d="M227.7 1213.1 L221.6 1233.3"/>
<circle class="k" cx="222.7" cy="1084.9" r="5.4"/>
<circle class="k" cx="222.7" cy="1084.9" r="3"/>
<circle class="k" cx="227.7" cy="1176.9" r="5.4"/>
<circle class="k" cx="227.7" cy="1176.9" r="3"/>
<circle class="k" cx="326.3" cy="1176.9" r="5.4"/>
<circle class="k" cx="326.3" cy="1176.9" r="3"/>
<circle class="k" cx="257.9" cy="1100.4" r="5"/>
<path class="k" d="M253.9 1098.4 C254.5 1098.5 257 1098.7 257.9 1099.4 C258.7 1100 258.2 1101.9 258.9 1102.4 C259.6 1102.9 261.4 1102.4 261.9 1102.4"/>
<circle class="k" cx="301.2" cy="1096.9" r="6.4"/>
<path class="k" d="M297.1 1095.3 C297.8 1095.5 300.3 1095.7 301.2 1096.3 C302 1096.9 301.5 1098.5 302.2 1099 C302.9 1099.4 304.7 1099 305.2 1099"/>
<path class="k" d="M252.9 1117.5 C250.3 1117 241.8 1113.8 237.8 1114.5 C233.7 1115.1 230.4 1117.3 228.7 1121.5 C227 1125.7 227.3 1134.3 227.7 1139.6 C228 1145 228.4 1151 230.7 1153.7 C233.1 1156.4 238.1 1155.7 241.8 1155.7 C245.5 1155.7 251 1154.1 252.9 1153.7" style="stroke-width:2.4"/>
<path class="k" d="M252.9 1125.5 C250.7 1124.9 243.1 1121.5 239.8 1121.5 C236.4 1121.5 234.1 1123.2 232.7 1125.5 C231.4 1127.9 230.9 1133.3 231.7 1135.6 C232.6 1138 235.4 1140 237.8 1139.6 C240.1 1139.3 243.3 1134.3 245.8 1133.6 C248.3 1132.9 251.7 1135.3 252.9 1135.6" style="stroke-width:2.4"/>
<path class="k" d="M229.7 1125.5 C231 1126.2 235.1 1129.9 237.8 1129.6 C240.4 1129.2 243.5 1124.7 245.8 1123.5 C248.2 1122.3 250.8 1122.7 251.8 1122.5" style="stroke-width:2.4"/>
<path class="k" d="M228.7 1145.7 C229.9 1145 233.6 1141 235.7 1141.6 C237.9 1142.3 239.8 1149 241.8 1149.7 C243.8 1150.4 246 1146 247.8 1145.7 C249.7 1145.3 252 1147.3 252.9 1147.7" style="stroke-width:2.4"/>
<path class="k" d="M231.7 1133.6 C232.7 1132.6 235.7 1129.6 237.8 1127.6 C239.8 1125.5 242.8 1122.5 243.8 1121.5" style="stroke-width:3.5"/>
<rect class="kw" x="252.9" y="1110.4" width="28.8" height="53" style="stroke-width:1.5"/>
<path class="k" d="M252.9 1113.1 L279 1113.1 L279 1163.4"/>
<circle class="k" cx="259.5" cy="1122.5" r="4.8" style="stroke-width:1.5"/>
<circle class="k" cx="259.5" cy="1122.5" r="2.2" style="fill:#1a1718"/>
<circle class="k" cx="259.5" cy="1135.2" r="4.8" style="stroke-width:1.5"/>
<circle class="k" cx="259.5" cy="1135.2" r="2.2" style="fill:#1a1718"/>
<circle class="k" cx="259.5" cy="1147.7" r="4.8" style="stroke-width:1.5"/>
<circle class="k" cx="259.5" cy="1147.7" r="2.2" style="fill:#1a1718"/>
<circle class="k" cx="259.5" cy="1157.8" r="4.8" style="stroke-width:1.5"/>
<circle class="k" cx="259.5" cy="1157.8" r="2.2" style="fill:#1a1718"/>
<circle class="k" cx="273" cy="1122.5" r="4.8" style="stroke-width:1.5"/>
<circle class="k" cx="273" cy="1122.5" r="2.2" style="fill:#1a1718"/>
<circle class="k" cx="273" cy="1135.2" r="4.8" style="stroke-width:1.5"/>
<circle class="k" cx="273" cy="1135.2" r="2.2" style="fill:#1a1718"/>
<circle class="k" cx="273" cy="1147.7" r="4.8" style="stroke-width:1.5"/>
<circle class="k" cx="273" cy="1147.7" r="2.2" style="fill:#1a1718"/>
<circle class="k" cx="273" cy="1157.8" r="4.8" style="stroke-width:1.5"/>
<circle class="k" cx="273" cy="1157.8" r="2.2" style="fill:#1a1718"/>
<circle class="k" cx="266.3" cy="1128" r="2" style="fill:#1a1718"/>
<circle class="k" cx="266.3" cy="1138" r="2" style="fill:#1a1718"/>
<path class="k" d="M281.6 1134 L297.1 1134" style="stroke-width:1"/>
<path class="r" d="M297.1 1131.6 L307.2 1131.6 L307.2 1136.4 L297.1 1136.4Z" style="stroke-width:1"/>
<path class="r" d="M307.2 1132.8 L313.3 1132.8M307.2 1135.2 L313.3 1135.2" style="stroke-width:.9"/>
<path class="k" d="M281.6 1145.3 L297.1 1145.3" style="stroke-width:1"/>
<path class="r" d="M297.1 1142.9 L307.2 1142.9 L307.2 1147.7 L297.1 1147.7Z" style="stroke-width:1"/>
<path class="r" d="M307.2 1144.1 L313.3 1144.1M307.2 1146.5 L313.3 1146.5" style="stroke-width:.9"/>
<path class="k" d="M281.6 1156.9 L297.1 1156.9" style="stroke-width:1"/>
<path class="r" d="M297.1 1154.5 L307.2 1154.5 L307.2 1159.4 L297.1 1159.4Z" style="stroke-width:1"/>
<path class="r" d="M307.2 1155.7 L313.3 1155.7M307.2 1158.2 L313.3 1158.2" style="stroke-width:.9"/>
<path class="r" d="M313.3 1132.8 C314.8 1133.1 319.8 1133.6 322.3 1134.6 C324.8 1135.6 326.5 1137.8 328.4 1138.6 C330.2 1139.5 332.6 1139.5 333.4 1139.6M313.3 1135.2 C314.6 1135.5 319 1136.2 321.3 1137.2 C323.7 1138.2 325.3 1140.4 327.3 1141.2 C329.4 1142.1 332.4 1142.2 333.4 1142.4" style="stroke-width:.9"/>
<path class="r" d="M313.3 1144.1 L333.4 1143.7M313.3 1146.5 L333.4 1145.3" style="stroke-width:.9"/>
<path class="r" d="M313.3 1155.7 C314.8 1155.4 319.8 1154.7 322.3 1153.7 C324.8 1152.7 326.5 1150.6 328.4 1149.7 C330.2 1148.8 332.6 1148.4 333.4 1148.1M313.3 1158.2 C314.9 1157.8 320.6 1157.2 323.3 1156.1 C326 1155.1 327.7 1152.8 329.4 1151.7 C331 1150.6 332.7 1150 333.4 1149.7" style="stroke-width:.9"/>
<path class="r" d="M305.2 1102.4 C306.4 1103.9 310.1 1107.6 312.2 1111.4 C314.4 1115.3 315.9 1121.5 318.3 1125.5 C320.6 1129.6 323.8 1133.3 326.3 1135.6 C328.9 1138 332.2 1139 333.4 1139.6M307.8 1101.4 C309.1 1103.1 313 1107.4 315.3 1111.4 C317.5 1115.5 319.1 1121.7 321.3 1125.5 C323.5 1129.4 326.3 1132.5 328.4 1134.6 C330.4 1136.7 332.6 1137.4 333.4 1138" style="stroke-width:.9"/>
<path class="r" d="M333.4 1139.2 L354.5 1139.2M333.4 1149.7 L354.5 1149.7M333.4 1139.2 L333.4 1149.7" style="stroke-width:1"/>
<path class="r" d="M301.2 1097.8 L319.3 1090.3" style="stroke-width:2"/>
<circle class="r" cx="333.4" cy="1083.3" r="15.7" style="fill:#fff;stroke-width:2.2"/><path class="r" d="M333.4 1072.2 L333.4 1086.3" style="stroke-width:2.4200000000000004;stroke-linecap:butt"/><path class="r" d="M324.3 1086.9 L342.4 1086.9" style="stroke-width:2.8600000000000003;stroke-linecap:butt"/><path class="r" d="M326.9 1091.3 L339.8 1091.3" style="stroke-width:2.4200000000000004;stroke-linecap:butt"/><path class="r" d="M330 1095.3 L336.8 1095.3" style="stroke-width:2.4200000000000004;stroke-linecap:butt"/>
<path class="kw" d="M274 1133.6 L266.9 1174.9M271.6 1136.6 L263.9 1173.9" style="stroke-width:1"/>
<path class="k" d="M263.9 1173.9 L260.3 1185.9M258.9 1190 L256.9 1195" style="stroke-width:1"/>
<ellipse class="r" style="fill:#fff;stroke-width:1" cx="254.9" cy="1197.4" rx="1.8" ry="2.6" transform="rotate(20 254.9 1197.4)"/>
<ellipse class="r" style="fill:#fff;stroke-width:1" cx="253.5" cy="1202" rx="2.4" ry="3.2" transform="rotate(20 253.5 1202)"/>
<path class="kw" d="M248.2 1209.1 L253.9 1209.7 L239.8 1255.4 L234.7 1254.4Z" style="stroke-width:1.3"/>
<path class="r" d="M219.6 1261.4 C218.8 1259.6 214.6 1254.1 214.6 1250.4 C214.6 1246.7 216.4 1242.1 219.6 1239.3 C222.8 1236.4 229 1233.9 233.7 1233.3 C238.4 1232.6 245.5 1234.9 247.8 1235.3" style="stroke-width:3.2;stroke-linecap:butt"/>
<path class="r" d="M221.6 1234.3 C223.7 1233.4 229.7 1229.7 233.7 1229.2 C237.8 1228.7 242.4 1230.4 245.8 1231.2 C249.2 1232.1 252.5 1233.8 253.9 1234.3M253.9 1234.3 L254.9 1231.2 L257.9 1248.4 L246.8 1252.4 L248.8 1248.8M248.8 1248.8 C247 1247.9 241.3 1243.7 237.8 1243.3 C234.2 1242.9 230.4 1244.7 227.7 1246.3 C225 1248 222.7 1252.2 221.6 1253.4" style="stroke-width:1.2"/>
<path class="r" d="M243.8 1260.4 C244.6 1260.9 248.3 1261.6 248.8 1263.5 C249.3 1265.3 248 1270 246.8 1271.5 C245.6 1273 242.6 1272.3 241.8 1272.5" style="stroke-width:2.6;stroke-linecap:butt"/>
<path class="kw" d="M223.7 1258.4 C220.4 1260.7 221.6 1270.4 219.6 1276.5 C217.6 1282.7 210.3 1299.9 208.6 1304.7 C206.8 1309.6 206.1 1310.8 206.5 1312.8 C206.9 1314.8 209.6 1318.8 211.6 1319.8 C213.6 1320.9 219.5 1321.5 221.6 1320.8 C223.8 1320.2 225.9 1319.4 227.7 1314.8 C229.4 1310.2 232.9 1293.1 234.7 1286.6 C236.6 1280.2 240.6 1270.1 241.8 1266.5 C243 1262.9 246.2 1260.5 243.8 1259.4 C241.4 1258.4 226.9 1256.1 223.7 1258.4Z" style="stroke-width:1.6"/>
<ellipse class="kw" style="stroke-width:1.6" cx="233.7" cy="1259.4" rx="10.1" ry="5.6" transform="rotate(12 233.7 1259.4)"/>
<path class="k" d="M227.7 1256 L227.3 1262.9" style="stroke-width:1"/>
<path class="k" d="M230.7 1255.4 L230.3 1263.2" style="stroke-width:1"/>
<path class="k" d="M233.7 1254.8 L233.3 1263.5" style="stroke-width:1"/>
<path class="k" d="M236.7 1255.4 L236.3 1263.2" style="stroke-width:1"/>
<path class="k" d="M239.8 1256 L239.4 1262.9" style="stroke-width:1"/>
<path class="k" d="M222.7 1272.5 C221.1 1276.9 215.4 1292 213.6 1298.7 C211.7 1305.4 211.9 1310.4 211.6 1312.8M228.7 1273.5 C227.2 1278.1 221.6 1293.7 219.6 1300.7 C217.6 1307.8 217.1 1313.3 216.6 1315.8M234.7 1276.5 C233.4 1280.9 228.5 1296 226.7 1302.7 C224.8 1309.4 224.2 1314.5 223.7 1316.8"/>
</g>
<circle class="kw" cx="177.3" cy="1096.9" r="39.9" style="stroke-width:1.4"/>
<use href="#warn" transform="translate(-441.6 216) scale(0.794)"/>
<rect class="k" x="467.4" y="1060.4" width="82" height="63.1" style="stroke-width:1.2;stroke-linejoin:miter"/>
<path class="k" d="M467.4 1098.4 L549.4 1098.4" style="stroke-width:1.1"/>
<path class="k" d="M470.2 1098.4 C470.5 1097.9 471.1 1096.2 471.5 1095.1 C471.9 1094 472.4 1092.9 472.8 1091.9 C473.2 1090.8 473.6 1089.8 474.1 1088.8 C474.5 1087.8 474.9 1086.9 475.3 1086 C475.8 1085.1 476.2 1084.3 476.6 1083.5 C477 1082.7 477.5 1082 477.9 1081.3 C478.3 1080.7 478.7 1080.1 479.2 1079.6 C479.6 1079.1 480 1078.6 480.4 1078.3 C480.9 1078 481.3 1077.7 481.7 1077.5 C482.1 1077.4 482.6 1077.3 483 1077.3 C483.4 1077.3 483.8 1077.4 484.3 1077.5 C484.7 1077.7 485.1 1078 485.5 1078.3 C486 1078.6 486.4 1079.1 486.8 1079.6 C487.2 1080.1 487.7 1080.7 488.1 1081.3 C488.5 1082 488.9 1082.7 489.4 1083.5 C489.8 1084.3 490.2 1085.1 490.6 1086 C491.1 1086.9 491.5 1087.8 491.9 1088.8 C492.3 1089.8 492.8 1090.8 493.2 1091.9 C493.6 1092.9 494 1094 494.5 1095.1 C494.9 1096.2 495.3 1097.3 495.7 1098.4 C496.2 1099.5 496.6 1100.7 497 1101.8 C497.4 1102.8 497.8 1103.9 498.3 1105 C498.7 1106 499.1 1107.1 499.5 1108.1 C500 1109 500.4 1110 500.8 1110.9 C501.2 1111.8 501.7 1112.6 502.1 1113.4 C502.5 1114.2 502.9 1114.9 503.4 1115.6 C503.8 1116.2 504.2 1116.8 504.6 1117.3 C505.1 1117.8 505.5 1118.2 505.9 1118.6 C506.3 1118.9 506.8 1119.2 507.2 1119.3 C507.6 1119.5 508 1119.6 508.5 1119.6 C508.9 1119.6 509.3 1119.5 509.7 1119.3 C510.2 1119.2 510.6 1118.9 511 1118.6 C511.4 1118.2 511.9 1117.8 512.3 1117.3 C512.7 1116.8 513.1 1116.2 513.6 1115.6 C514 1114.9 514.4 1114.2 514.8 1113.4 C515.3 1112.6 515.7 1111.8 516.1 1110.9 C516.5 1110 517 1109 517.4 1108.1 C517.8 1107.1 518.2 1106 518.7 1105 C519.1 1103.9 519.5 1102.8 519.9 1101.8 C520.4 1100.7 521 1099 521.2 1098.4" style="stroke-width:.9"/>
<path class="k" d="M483.6 1098.4 C483.8 1097.9 484.4 1096.2 484.9 1095.1 C485.3 1094 485.7 1092.9 486.1 1091.9 C486.6 1090.8 487 1089.8 487.4 1088.8 C487.8 1087.8 488.3 1086.9 488.7 1086 C489.1 1085.1 489.5 1084.3 490 1083.5 C490.4 1082.7 490.8 1082 491.2 1081.3 C491.7 1080.7 492.1 1080.1 492.5 1079.6 C492.9 1079.1 493.4 1078.6 493.8 1078.3 C494.2 1078 494.6 1077.7 495.1 1077.5 C495.5 1077.4 495.9 1077.3 496.3 1077.3 C496.8 1077.3 497.2 1077.4 497.6 1077.5 C498 1077.7 498.5 1078 498.9 1078.3 C499.3 1078.6 499.7 1079.1 500.2 1079.6 C500.6 1080.1 501 1080.7 501.4 1081.3 C501.9 1082 502.3 1082.7 502.7 1083.5 C503.1 1084.3 503.6 1085.1 504 1086 C504.4 1086.9 504.8 1087.8 505.3 1088.8 C505.7 1089.8 506.1 1090.8 506.5 1091.9 C507 1092.9 507.4 1094 507.8 1095.1 C508.2 1096.2 508.7 1097.3 509.1 1098.4 C509.5 1099.5 509.9 1100.7 510.4 1101.8 C510.8 1102.8 511.2 1103.9 511.6 1105 C512.1 1106 512.5 1107.1 512.9 1108.1 C513.3 1109 513.8 1110 514.2 1110.9 C514.6 1111.8 515 1112.6 515.5 1113.4 C515.9 1114.2 516.3 1114.9 516.7 1115.6 C517.2 1116.2 517.6 1116.8 518 1117.3 C518.4 1117.8 518.9 1118.2 519.3 1118.6 C519.7 1118.9 520.1 1119.2 520.6 1119.3 C521 1119.5 521.4 1119.6 521.8 1119.6 C522.3 1119.6 522.7 1119.5 523.1 1119.3 C523.5 1119.2 524 1118.9 524.4 1118.6 C524.8 1118.2 525.2 1117.8 525.7 1117.3 C526.1 1116.8 526.5 1116.2 526.9 1115.6 C527.4 1114.9 527.8 1114.2 528.2 1113.4 C528.6 1112.6 529.1 1111.8 529.5 1110.9 C529.9 1110 530.3 1109 530.7 1108.1 C531.2 1107.1 531.6 1106 532 1105 C532.4 1103.9 532.9 1102.8 533.3 1101.8 C533.7 1100.7 534.4 1099 534.6 1098.4" style="stroke-width:.9"/>
<path class="k" d="M496.3 1098.4 C496.6 1097.9 497.2 1096.2 497.6 1095.1 C498 1094 498.5 1092.9 498.9 1091.9 C499.3 1090.8 499.7 1089.8 500.2 1088.8 C500.6 1087.8 501 1086.9 501.4 1086 C501.9 1085.1 502.3 1084.3 502.7 1083.5 C503.1 1082.7 503.6 1082 504 1081.3 C504.4 1080.7 504.8 1080.1 505.3 1079.6 C505.7 1079.1 506.1 1078.6 506.5 1078.3 C507 1078 507.4 1077.7 507.8 1077.5 C508.2 1077.4 508.7 1077.3 509.1 1077.3 C509.5 1077.3 509.9 1077.4 510.4 1077.5 C510.8 1077.7 511.2 1078 511.6 1078.3 C512.1 1078.6 512.5 1079.1 512.9 1079.6 C513.3 1080.1 513.8 1080.7 514.2 1081.3 C514.6 1082 515 1082.7 515.5 1083.5 C515.9 1084.3 516.3 1085.1 516.7 1086 C517.2 1086.9 517.6 1087.8 518 1088.8 C518.4 1089.8 518.9 1090.8 519.3 1091.9 C519.7 1092.9 520.1 1094 520.6 1095.1 C521 1096.2 521.4 1097.3 521.8 1098.4 C522.3 1099.5 522.7 1100.7 523.1 1101.8 C523.5 1102.8 524 1103.9 524.4 1105 C524.8 1106 525.2 1107.1 525.7 1108.1 C526.1 1109 526.5 1110 526.9 1110.9 C527.4 1111.8 527.8 1112.6 528.2 1113.4 C528.6 1114.2 529.1 1114.9 529.5 1115.6 C529.9 1116.2 530.3 1116.8 530.7 1117.3 C531.2 1117.8 531.6 1118.2 532 1118.6 C532.4 1118.9 532.9 1119.2 533.3 1119.3 C533.7 1119.5 534.1 1119.6 534.6 1119.6 C535 1119.6 535.4 1119.5 535.8 1119.3 C536.3 1119.2 536.7 1118.9 537.1 1118.6 C537.5 1118.2 538 1117.8 538.4 1117.3 C538.8 1116.8 539.2 1116.2 539.7 1115.6 C540.1 1114.9 540.5 1114.2 540.9 1113.4 C541.4 1112.6 541.8 1111.8 542.2 1110.9 C542.6 1110 543.1 1109 543.5 1108.1 C543.9 1107.1 544.3 1106 544.8 1105 C545.2 1103.9 545.6 1102.8 546 1101.8 C546.5 1100.7 547.1 1099 547.3 1098.4" style="stroke-width:.9"/>
<g fill="none" stroke="#1a1718" stroke-linecap="butt">
<rect x="410.2" y="1162.6" width="17.5" height="17.7" stroke-width="2"/>
<path d="M418.9 1162.6 L418.9 1183.1" stroke-width="1.2"/>
<path d="M410.2 1171.4 L427.7 1171.4" stroke-width="1.2"/>
<path d="M404.5 1166.3 L404.5 1176.5" stroke-width="1.2"/>
<path d="M404.5 1171.4 L410.2 1171.4" stroke-width="1.2"/>
<path d="M427.7 1171.4 L508.3 1171.4" stroke-width="1.1" stroke-dasharray="7 3.5"/>
<path d="M448.2 1157.6 L448.2 1165.2" stroke-width="1.4"/>
<path d="M440.4 1165.2 L448.2 1178.6" stroke-width="1.6"/>
<path d="M448.2 1194.6 L448.2 1200.2 L441.5 1200.2 L441.5 1205.3 L448.2 1205.3 L448.2 1220.7" stroke-width="1.6"/>
<path d="M448.2 1242.3 L448.2 1249.5" stroke-width="1.4"/>
<path d="M478.9 1157.6 L478.9 1165.2" stroke-width="2"/>
<path d="M471.1 1165.2 L478.9 1178.6" stroke-width="1.6"/>
<path d="M478.9 1194.6 L478.9 1200.2 L472.1 1200.2 L472.1 1205.3 L478.9 1205.3 L478.9 1220.7" stroke-width="1.6"/>
<path d="M478.9 1242.3 L478.9 1249.5" stroke-width="1.4"/>
<path d="M509.3 1157.6 L509.3 1165.2" stroke-width="1.4"/>
<path d="M501.5 1165.2 L509.3 1178.6" stroke-width="1.6"/>
<path d="M509.3 1194.6 L509.3 1200.2 L502.5 1200.2 L502.5 1205.3 L509.3 1205.3 L509.3 1220.7" stroke-width="1.6"/>
<path d="M509.3 1242.3 L509.3 1249.5" stroke-width="1.4"/>
<path d="M419.5 1187.8 L419.5 1202.2" stroke-width="2"/>
<path d="M424 1187.2 L432.6 1187.2" stroke-width="1.1"/>
<path d="M424 1202.6 L432.6 1202.6" stroke-width="1.1"/>
<path d="M448.2 1249.5 L462 1277.3" stroke-width="1.4"/>
<path d="M478.9 1249.5 L478.9 1272.1" stroke-width="1.4"/>
<path d="M509.7 1249.5 L496.3 1277.3" stroke-width="1.4"/>
<path d="M411.7 1250.1 L425.6 1250.1" stroke-width="1.2"/>
<path d="M418.9 1250.1 L418.9 1279.3 L450.7 1288.6" stroke-width="1.3"/>
<path d="M450.7 1284 L450.7 1293.1" stroke-width="1.3"/>
<path d="M418.4 1242.7 L419.5 1242.7" stroke-width="1.2"/>
</g>
<rect x="432.6" y="1179" width="92.7" height="31.7" fill="none" stroke="#ed1c24" stroke-width="2"/>
<path d="M462.8 1179 L462.8 1210.7M493.9 1179 L493.9 1210.7M432.6 1194.6 L525.3 1194.6" fill="none" stroke="#ed1c24" stroke-width="1.6"/>
<circle cx="479.1" cy="1295.8" r="23.6" fill="#fff" stroke="#1a1718" stroke-width="2.4"/>
<text x="478.7" y="1313.2" font-family="Liberation Sans, sans-serif" font-size="21" fill="#1a1718">~</text>
<circle class="kw" cx="181.2" cy="1387.8" r="39.4" style="stroke-width:1.4"/>
<path class="k" d="M276.7 1363.5 L280.5 1357.8 L431.6 1356.9M280.5 1361.5 L427.9 1360.9M277.6 1363.5 L283.9 1483.3 L418.8 1481.3"/>
<path class="k" d="M431.6 1356.9 L427.3 1367.8 L431.6 1379.2 L424.5 1396.3 L428.8 1410.6 L421.6 1427.7 L427.3 1444.8 L420.2 1461.9 L424.5 1473.3 L418.8 1481.3"/>
<path class="k" d="M293.9 1388.3 L354.6 1388.3 L356.6 1461.9 L296.1 1461.9ZM293.9 1388.3 L300.4 1367.8 L361.2 1367.8 L354.6 1388.3M361.2 1367.8 L364.6 1441.9 L356.6 1461.9"/>
<circle class="k" cx="325.5" cy="1422" r="17.7" style="stroke-width:2.2"/>
<path class="k" d="M315.5 1418.6 L335.5 1418.6M315.5 1424.8 L335.5 1424.8" style="stroke-width:2"/>
<path class="k" d="M325.5 1407.7 L325.5 1418.6M325.5 1424.8 L325.5 1436.2" style="stroke-width:1.2"/>
<circle class="k" cx="289.9" cy="1370.1" r="5.1"/>
<circle class="k" cx="289.9" cy="1370.1" r="2.9"/>
<circle class="k" cx="295.6" cy="1472.8" r="5.1"/>
<circle class="k" cx="295.6" cy="1472.8" r="2.9"/>
<circle class="k" cx="406" cy="1472.8" r="5.1"/>
<circle class="k" cx="406" cy="1472.8" r="2.9"/>
<circle class="kw" cx="353.8" cy="1472.8" r="6.6"/>
<path class="k" d="M349.8 1470.5 C350.3 1470.6 352.5 1470.4 353.2 1471 C353.9 1471.7 353.3 1473.8 354 1474.5 C354.8 1475.1 357.1 1474.9 357.8 1475"/>
<rect class="kw" x="368.9" y="1401.4" width="31.4" height="29.1" style="stroke-width:1.5"/>
<path class="k" d="M368.9 1405.4 L397.4 1405.4 L397.4 1430.5"/>
<circle class="k" cx="375.4" cy="1412" r="5.4" style="stroke-width:1.5"/>
<circle class="k" cx="375.4" cy="1412" r="2.6" style="fill:#1a1718"/>
<circle class="k" cx="390.8" cy="1412" r="5.4" style="stroke-width:1.5"/>
<circle class="k" cx="390.8" cy="1412" r="2.6" style="fill:#1a1718"/>
<circle class="k" cx="375.4" cy="1424.3" r="5.4" style="stroke-width:1.5"/>
<circle class="k" cx="375.4" cy="1424.3" r="2.6" style="fill:#1a1718"/>
<circle class="k" cx="390.8" cy="1424.3" r="5.4" style="stroke-width:1.5"/>
<circle class="k" cx="390.8" cy="1424.3" r="2.6" style="fill:#1a1718"/>
<path class="r" d="M370.9 1334.1 L370.9 1355.8M382.6 1334.1 L382.6 1355.8" style="stroke-width:.9"/>
<path class="r" d="M376 1357.8 L376.6 1383.5M379.4 1357.8 L379.4 1383.5" style="stroke-width:.9"/>
<path class="r" d="M381.7 1356.4 C382.4 1358.3 384.8 1363.3 386 1367.8 C387.2 1372.3 388.4 1380.9 388.8 1383.5M384 1355.8 C384.8 1357.8 387.6 1363.2 388.8 1367.8 C390.1 1372.4 391.2 1380.9 391.7 1383.5" style="stroke-width:.9"/>
<path class="r" d="M375.4 1383.5 L380.6 1383.5 L380.6 1397.7 L375.4 1397.7ZM387.7 1383.5 L393.1 1383.5 L393.1 1397.7 L387.7 1397.7Z" style="stroke-width:1"/>
<path class="r" d="M371.7 1356.4 C370.8 1360.7 366.7 1372.1 366 1382 C365.3 1392 366.3 1406.8 367.4 1416.3 C368.6 1425.8 372.9 1432.9 373.2 1439.1 C373.4 1445.3 370.5 1449.8 368.9 1453.4 C367.2 1456.9 364.1 1459.3 363.2 1460.5M374.6 1356.9 C373.6 1361.1 369.6 1372.2 368.9 1382 C368.2 1391.9 369.2 1406.8 370.3 1416.3 C371.4 1425.8 375.2 1432.7 375.4 1439.1 C375.7 1445.5 373.3 1450.9 371.7 1454.8 C370.2 1458.7 367 1461.2 366 1462.5" style="stroke-width:.9"/>
<path class="r" d="M364 1454.8 L369.2 1458.5 L363.2 1467 L358.3 1463.3Z" style="stroke-width:1"/>
<path class="r" d="M336.1 1480.5 L348.9 1475.6" style="stroke-width:2"/>
<circle class="r" cx="318.4" cy="1486.2" r="17.7" style="fill:#fff;stroke-width:2.3"/><path class="r" d="M318.4 1473.7 L318.4 1489.6" style="stroke-width:2.53;stroke-linecap:butt"/><path class="r" d="M308.2 1490.2 L328.6 1490.2" style="stroke-width:2.9899999999999998;stroke-linecap:butt"/><path class="r" d="M311.1 1495.2 L325.6 1495.2" style="stroke-width:2.53;stroke-linecap:butt"/><path class="r" d="M314.5 1499.8 L322.2 1499.8" style="stroke-width:2.53;stroke-linecap:butt"/>
<!-- 90_footer.svg -->
<rect x="0" y="1684" width="16" height="1" fill="#333"/><rect x="48" y="1684" width="1.5" height="1" fill="#333"/><rect x="63" y="1684" width="1.5" height="1" fill="#333"/><rect x="146" y="1684" width="1.5" height="1" fill="#c33"/>


</svg>
</body></html>
